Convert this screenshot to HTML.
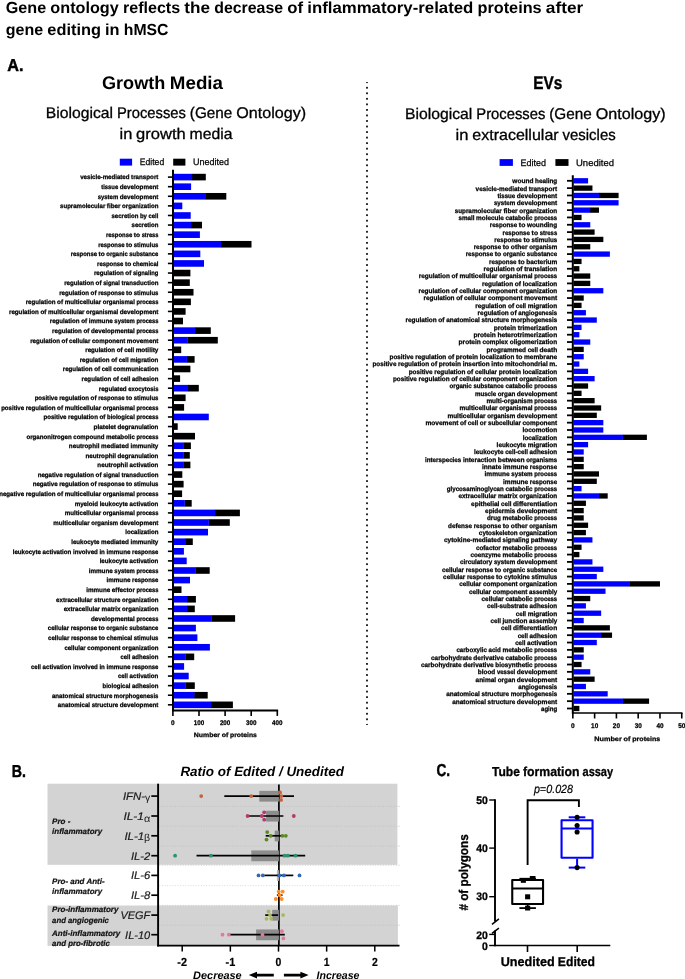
<!DOCTYPE html>
<html><head><meta charset="utf-8"><title>Figure</title>
<style>
html,body{margin:0;padding:0;background:#fff;}
body{width:685px;height:979px;overflow:hidden;}
svg{display:block;font-family:"Liberation Sans",sans-serif;text-rendering:geometricPrecision;}
</style></head><body>
<svg width="685" height="979" viewBox="0 0 685 979" style="filter:blur(0.3px)">
<rect x="0" y="0" width="685" height="979" fill="#fff"/>
<text x="5.80" y="12.60" font-size="16.0" text-anchor="start" font-weight="bold" font-style="normal" fill="#000" textLength="40.39" lengthAdjust="spacingAndGlyphs">Gene</text>
<text x="50.38" y="12.60" font-size="16.0" text-anchor="start" font-weight="bold" font-style="normal" fill="#000" textLength="68.41" lengthAdjust="spacingAndGlyphs">ontology</text>
<text x="122.98" y="12.60" font-size="16.0" text-anchor="start" font-weight="bold" font-style="normal" fill="#000" textLength="57.20" lengthAdjust="spacingAndGlyphs">reflects</text>
<text x="184.37" y="12.60" font-size="16.0" text-anchor="start" font-weight="bold" font-style="normal" fill="#000" textLength="25.70" lengthAdjust="spacingAndGlyphs">the</text>
<text x="214.26" y="12.60" font-size="16.0" text-anchor="start" font-weight="bold" font-style="normal" fill="#000" textLength="68.78" lengthAdjust="spacingAndGlyphs">decrease</text>
<text x="287.23" y="12.60" font-size="16.0" text-anchor="start" font-weight="bold" font-style="normal" fill="#000" textLength="15.82" lengthAdjust="spacingAndGlyphs">of</text>
<text x="307.24" y="12.60" font-size="16.0" text-anchor="start" font-weight="bold" font-style="normal" fill="#000" textLength="166.10" lengthAdjust="spacingAndGlyphs">inflammatory-related</text>
<text x="477.53" y="12.60" font-size="16.0" text-anchor="start" font-weight="bold" font-style="normal" fill="#000" textLength="64.15" lengthAdjust="spacingAndGlyphs">proteins</text>
<text x="545.86" y="12.60" font-size="16.0" text-anchor="start" font-weight="bold" font-style="normal" fill="#000" textLength="37.34" lengthAdjust="spacingAndGlyphs">after</text>
<text x="5.80" y="34.70" font-size="16.0" text-anchor="start" font-weight="bold" font-style="normal" fill="#000" textLength="37.37" lengthAdjust="spacingAndGlyphs">gene</text>
<text x="47.36" y="34.70" font-size="16.0" text-anchor="start" font-weight="bold" font-style="normal" fill="#000" textLength="53.55" lengthAdjust="spacingAndGlyphs">editing</text>
<text x="105.09" y="34.70" font-size="16.0" text-anchor="start" font-weight="bold" font-style="normal" fill="#000" textLength="14.51" lengthAdjust="spacingAndGlyphs">in</text>
<text x="123.79" y="34.70" font-size="16.0" text-anchor="start" font-weight="bold" font-style="normal" fill="#000" textLength="44.71" lengthAdjust="spacingAndGlyphs">hMSC</text>
<text x="7.20" y="71.00" font-size="17.3" text-anchor="start" font-weight="bold" font-style="normal" fill="#000" textLength="16.20" lengthAdjust="spacingAndGlyphs" stroke="#000" stroke-width="0.45">A.</text>
<text x="102.00" y="88.90" font-size="18.2" text-anchor="start" font-weight="bold" font-style="normal" fill="#000" textLength="63.30" lengthAdjust="spacingAndGlyphs">Growth</text>
<text x="169.82" y="88.90" font-size="18.2" text-anchor="start" font-weight="bold" font-style="normal" fill="#000" textLength="53.18" lengthAdjust="spacingAndGlyphs">Media</text>
<text x="45.70" y="118.40" font-size="15.4" text-anchor="start" font-weight="normal" font-style="normal" fill="#000" textLength="67.31" lengthAdjust="spacingAndGlyphs" stroke="#000" stroke-width="0.3">Biological</text>
<text x="116.93" y="118.40" font-size="15.4" text-anchor="start" font-weight="normal" font-style="normal" fill="#000" textLength="69.01" lengthAdjust="spacingAndGlyphs" stroke="#000" stroke-width="0.3">Processes</text>
<text x="189.85" y="118.40" font-size="15.4" text-anchor="start" font-weight="normal" font-style="normal" fill="#000" textLength="42.51" lengthAdjust="spacingAndGlyphs" stroke="#000" stroke-width="0.3">(Gene</text>
<text x="236.28" y="118.40" font-size="15.4" text-anchor="start" font-weight="normal" font-style="normal" fill="#000" textLength="69.82" lengthAdjust="spacingAndGlyphs" stroke="#000" stroke-width="0.3">Ontology)</text>
<text x="119.50" y="138.80" font-size="15.4" text-anchor="start" font-weight="normal" font-style="normal" fill="#000" textLength="12.80" lengthAdjust="spacingAndGlyphs" stroke="#000" stroke-width="0.3">in</text>
<text x="136.13" y="138.80" font-size="15.4" text-anchor="start" font-weight="normal" font-style="normal" fill="#000" textLength="49.59" lengthAdjust="spacingAndGlyphs" stroke="#000" stroke-width="0.3">growth</text>
<text x="189.56" y="138.80" font-size="15.4" text-anchor="start" font-weight="normal" font-style="normal" fill="#000" textLength="42.94" lengthAdjust="spacingAndGlyphs" stroke="#000" stroke-width="0.3">media</text>
<text x="533.30" y="89.20" font-size="18.2" text-anchor="start" font-weight="bold" font-style="normal" fill="#000" textLength="29.00" lengthAdjust="spacingAndGlyphs" stroke="#000" stroke-width="0.4">EVs</text>
<text x="405.00" y="119.40" font-size="15.4" text-anchor="start" font-weight="normal" font-style="normal" fill="#000" textLength="67.36" lengthAdjust="spacingAndGlyphs" stroke="#000" stroke-width="0.3">Biological</text>
<text x="476.28" y="119.40" font-size="15.4" text-anchor="start" font-weight="normal" font-style="normal" fill="#000" textLength="69.06" lengthAdjust="spacingAndGlyphs" stroke="#000" stroke-width="0.3">Processes</text>
<text x="549.26" y="119.40" font-size="15.4" text-anchor="start" font-weight="normal" font-style="normal" fill="#000" textLength="42.55" lengthAdjust="spacingAndGlyphs" stroke="#000" stroke-width="0.3">(Gene</text>
<text x="595.72" y="119.40" font-size="15.4" text-anchor="start" font-weight="normal" font-style="normal" fill="#000" textLength="69.88" lengthAdjust="spacingAndGlyphs" stroke="#000" stroke-width="0.3">Ontology)</text>
<text x="455.50" y="140.00" font-size="15.4" text-anchor="start" font-weight="normal" font-style="normal" fill="#000" textLength="12.89" lengthAdjust="spacingAndGlyphs" stroke="#000" stroke-width="0.3">in</text>
<text x="472.25" y="140.00" font-size="15.4" text-anchor="start" font-weight="normal" font-style="normal" fill="#000" textLength="86.41" lengthAdjust="spacingAndGlyphs" stroke="#000" stroke-width="0.3">extracellular</text>
<text x="562.52" y="140.00" font-size="15.4" text-anchor="start" font-weight="normal" font-style="normal" fill="#000" textLength="53.18" lengthAdjust="spacingAndGlyphs" stroke="#000" stroke-width="0.3">vesicles</text>
<rect x="366.10" y="82.10" width="1.80" height="1.00" fill="#111"/>
<rect x="366.10" y="86.84" width="1.80" height="1.80" fill="#111"/>
<rect x="366.10" y="92.38" width="1.80" height="1.80" fill="#111"/>
<rect x="366.10" y="97.92" width="1.80" height="1.80" fill="#111"/>
<rect x="366.10" y="103.46" width="1.80" height="1.80" fill="#111"/>
<rect x="366.10" y="109.00" width="1.80" height="1.80" fill="#111"/>
<rect x="366.10" y="114.54" width="1.80" height="1.80" fill="#111"/>
<rect x="366.10" y="120.08" width="1.80" height="1.80" fill="#111"/>
<rect x="366.10" y="125.62" width="1.80" height="1.80" fill="#111"/>
<rect x="366.10" y="131.16" width="1.80" height="1.80" fill="#111"/>
<rect x="366.10" y="136.70" width="1.80" height="1.80" fill="#111"/>
<rect x="366.10" y="142.24" width="1.80" height="1.80" fill="#111"/>
<rect x="366.10" y="147.78" width="1.80" height="1.80" fill="#111"/>
<rect x="366.10" y="153.32" width="1.80" height="1.80" fill="#111"/>
<rect x="366.10" y="158.86" width="1.80" height="1.80" fill="#111"/>
<rect x="366.10" y="164.40" width="1.80" height="1.80" fill="#111"/>
<rect x="366.10" y="169.94" width="1.80" height="1.80" fill="#111"/>
<rect x="366.10" y="175.48" width="1.80" height="1.80" fill="#111"/>
<rect x="366.10" y="181.02" width="1.80" height="1.80" fill="#111"/>
<rect x="366.10" y="186.56" width="1.80" height="1.80" fill="#111"/>
<rect x="366.10" y="192.10" width="1.80" height="1.80" fill="#111"/>
<rect x="366.10" y="197.64" width="1.80" height="1.80" fill="#111"/>
<rect x="366.10" y="203.18" width="1.80" height="1.80" fill="#111"/>
<rect x="366.10" y="208.72" width="1.80" height="1.80" fill="#111"/>
<rect x="366.10" y="214.26" width="1.80" height="1.80" fill="#111"/>
<rect x="366.10" y="219.80" width="1.80" height="1.80" fill="#111"/>
<rect x="366.10" y="225.34" width="1.80" height="1.80" fill="#111"/>
<rect x="366.10" y="230.88" width="1.80" height="1.80" fill="#111"/>
<rect x="366.10" y="236.42" width="1.80" height="1.80" fill="#111"/>
<rect x="366.10" y="241.96" width="1.80" height="1.80" fill="#111"/>
<rect x="366.10" y="247.50" width="1.80" height="1.80" fill="#111"/>
<rect x="366.10" y="253.04" width="1.80" height="1.80" fill="#111"/>
<rect x="366.10" y="258.58" width="1.80" height="1.80" fill="#111"/>
<rect x="366.10" y="264.12" width="1.80" height="1.80" fill="#111"/>
<rect x="366.10" y="269.66" width="1.80" height="1.80" fill="#111"/>
<rect x="366.10" y="275.20" width="1.80" height="1.80" fill="#111"/>
<rect x="366.10" y="280.74" width="1.80" height="1.80" fill="#111"/>
<rect x="366.10" y="286.28" width="1.80" height="1.80" fill="#111"/>
<rect x="366.10" y="291.82" width="1.80" height="1.80" fill="#111"/>
<rect x="366.10" y="297.36" width="1.80" height="1.80" fill="#111"/>
<rect x="366.10" y="302.90" width="1.80" height="1.80" fill="#111"/>
<rect x="366.10" y="308.44" width="1.80" height="1.80" fill="#111"/>
<rect x="366.10" y="313.98" width="1.80" height="1.80" fill="#111"/>
<rect x="366.10" y="319.52" width="1.80" height="1.80" fill="#111"/>
<rect x="366.10" y="325.06" width="1.80" height="1.80" fill="#111"/>
<rect x="366.10" y="330.60" width="1.80" height="1.80" fill="#111"/>
<rect x="366.10" y="336.14" width="1.80" height="1.80" fill="#111"/>
<rect x="366.10" y="341.68" width="1.80" height="1.80" fill="#111"/>
<rect x="366.10" y="347.22" width="1.80" height="1.80" fill="#111"/>
<rect x="366.10" y="352.76" width="1.80" height="1.80" fill="#111"/>
<rect x="366.10" y="358.30" width="1.80" height="1.80" fill="#111"/>
<rect x="366.10" y="363.84" width="1.80" height="1.80" fill="#111"/>
<rect x="366.10" y="369.38" width="1.80" height="1.80" fill="#111"/>
<rect x="366.10" y="374.92" width="1.80" height="1.80" fill="#111"/>
<rect x="366.10" y="380.46" width="1.80" height="1.80" fill="#111"/>
<rect x="366.10" y="386.00" width="1.80" height="1.80" fill="#111"/>
<rect x="366.10" y="391.54" width="1.80" height="1.80" fill="#111"/>
<rect x="366.10" y="397.08" width="1.80" height="1.80" fill="#111"/>
<rect x="366.10" y="402.62" width="1.80" height="1.80" fill="#111"/>
<rect x="366.10" y="408.16" width="1.80" height="1.80" fill="#111"/>
<rect x="366.10" y="413.70" width="1.80" height="1.80" fill="#111"/>
<rect x="366.10" y="419.24" width="1.80" height="1.80" fill="#111"/>
<rect x="366.10" y="424.78" width="1.80" height="1.80" fill="#111"/>
<rect x="366.10" y="430.32" width="1.80" height="1.80" fill="#111"/>
<rect x="366.10" y="435.86" width="1.80" height="1.80" fill="#111"/>
<rect x="366.10" y="441.40" width="1.80" height="1.80" fill="#111"/>
<rect x="366.10" y="446.94" width="1.80" height="1.80" fill="#111"/>
<rect x="366.10" y="452.48" width="1.80" height="1.80" fill="#111"/>
<rect x="366.10" y="458.02" width="1.80" height="1.80" fill="#111"/>
<rect x="366.10" y="463.56" width="1.80" height="1.80" fill="#111"/>
<rect x="366.10" y="469.10" width="1.80" height="1.80" fill="#111"/>
<rect x="366.10" y="474.64" width="1.80" height="1.80" fill="#111"/>
<rect x="366.10" y="480.18" width="1.80" height="1.80" fill="#111"/>
<rect x="366.10" y="485.72" width="1.80" height="1.80" fill="#111"/>
<rect x="366.10" y="491.26" width="1.80" height="1.80" fill="#111"/>
<rect x="366.10" y="496.80" width="1.80" height="1.80" fill="#111"/>
<rect x="366.10" y="502.34" width="1.80" height="1.80" fill="#111"/>
<rect x="366.10" y="507.88" width="1.80" height="1.80" fill="#111"/>
<rect x="366.10" y="513.42" width="1.80" height="1.80" fill="#111"/>
<rect x="366.10" y="518.96" width="1.80" height="1.80" fill="#111"/>
<rect x="366.10" y="524.50" width="1.80" height="1.80" fill="#111"/>
<rect x="366.10" y="530.04" width="1.80" height="1.80" fill="#111"/>
<rect x="366.10" y="535.58" width="1.80" height="1.80" fill="#111"/>
<rect x="366.10" y="541.12" width="1.80" height="1.80" fill="#111"/>
<rect x="366.10" y="546.66" width="1.80" height="1.80" fill="#111"/>
<rect x="366.10" y="552.20" width="1.80" height="1.80" fill="#111"/>
<rect x="366.10" y="557.74" width="1.80" height="1.80" fill="#111"/>
<rect x="366.10" y="563.28" width="1.80" height="1.80" fill="#111"/>
<rect x="366.10" y="568.82" width="1.80" height="1.80" fill="#111"/>
<rect x="366.10" y="574.36" width="1.80" height="1.80" fill="#111"/>
<rect x="366.10" y="579.90" width="1.80" height="1.80" fill="#111"/>
<rect x="366.10" y="585.44" width="1.80" height="1.80" fill="#111"/>
<rect x="366.10" y="590.98" width="1.80" height="1.80" fill="#111"/>
<rect x="366.10" y="596.52" width="1.80" height="1.80" fill="#111"/>
<rect x="366.10" y="602.06" width="1.80" height="1.80" fill="#111"/>
<rect x="366.10" y="607.60" width="1.80" height="1.80" fill="#111"/>
<rect x="366.10" y="613.14" width="1.80" height="1.80" fill="#111"/>
<rect x="366.10" y="618.68" width="1.80" height="1.80" fill="#111"/>
<rect x="366.10" y="624.22" width="1.80" height="1.80" fill="#111"/>
<rect x="366.10" y="629.76" width="1.80" height="1.80" fill="#111"/>
<rect x="366.10" y="635.30" width="1.80" height="1.80" fill="#111"/>
<rect x="366.10" y="640.84" width="1.80" height="1.80" fill="#111"/>
<rect x="366.10" y="646.38" width="1.80" height="1.80" fill="#111"/>
<rect x="366.10" y="651.92" width="1.80" height="1.80" fill="#111"/>
<rect x="366.10" y="657.46" width="1.80" height="1.80" fill="#111"/>
<rect x="366.10" y="663.00" width="1.80" height="1.80" fill="#111"/>
<rect x="366.10" y="668.54" width="1.80" height="1.80" fill="#111"/>
<rect x="366.10" y="674.08" width="1.80" height="1.80" fill="#111"/>
<rect x="366.10" y="679.62" width="1.80" height="1.80" fill="#111"/>
<rect x="366.10" y="685.16" width="1.80" height="1.80" fill="#111"/>
<rect x="366.10" y="690.70" width="1.80" height="1.80" fill="#111"/>
<rect x="366.10" y="696.24" width="1.80" height="1.80" fill="#111"/>
<rect x="366.10" y="701.78" width="1.80" height="1.80" fill="#111"/>
<rect x="366.10" y="707.32" width="1.80" height="1.80" fill="#111"/>
<rect x="366.10" y="712.86" width="1.80" height="1.80" fill="#111"/>
<rect x="366.10" y="718.40" width="1.80" height="1.80" fill="#111"/>
<rect x="366.10" y="723.94" width="1.80" height="1.00" fill="#111"/>
<rect x="119.80" y="158.70" width="12.30" height="6.90" fill="#0000ff"/>
<text x="139.80" y="165.10" font-size="9.3" text-anchor="start" font-weight="normal" font-style="normal" fill="#000" textLength="24.40" lengthAdjust="spacingAndGlyphs" stroke="#000" stroke-width="0.25">Edited</text>
<rect x="173.20" y="158.70" width="12.20" height="6.90" fill="#000"/>
<text x="193.00" y="165.10" font-size="9.3" text-anchor="start" font-weight="normal" font-style="normal" fill="#000" textLength="36.00" lengthAdjust="spacingAndGlyphs" stroke="#000" stroke-width="0.25">Unedited</text>
<rect x="499.60" y="159.10" width="13.30" height="6.80" fill="#0000ff"/>
<text x="520.50" y="165.80" font-size="9.3" text-anchor="start" font-weight="normal" font-style="normal" fill="#000" textLength="25.50" lengthAdjust="spacingAndGlyphs" stroke="#000" stroke-width="0.25">Edited</text>
<rect x="555.40" y="159.10" width="13.10" height="6.80" fill="#000"/>
<text x="576.00" y="165.80" font-size="9.3" text-anchor="start" font-weight="normal" font-style="normal" fill="#000" textLength="38.00" lengthAdjust="spacingAndGlyphs" stroke="#000" stroke-width="0.25">Unedited</text>
<rect x="191.90" y="173.80" width="13.90" height="6.60" fill="#000"/>
<rect x="173.60" y="173.80" width="18.60" height="6.60" fill="#0000ff"/>
<line x1="167.90" y1="177.10" x2="172.50" y2="177.10" stroke="#000" stroke-width="1.6"/>
<text x="80.16" y="179.45" font-size="6.3" text-anchor="start" font-weight="bold" font-style="normal" fill="#000" textLength="49.38" lengthAdjust="spacingAndGlyphs" stroke="#000" stroke-width="0.25">vesicle-mediated</text>
<text x="131.12" y="179.45" font-size="6.3" text-anchor="start" font-weight="bold" font-style="normal" fill="#000" textLength="27.28" lengthAdjust="spacingAndGlyphs" stroke="#000" stroke-width="0.25">transport</text>
<rect x="173.60" y="183.39" width="17.50" height="6.60" fill="#0000ff"/>
<line x1="167.90" y1="186.69" x2="172.50" y2="186.69" stroke="#000" stroke-width="1.6"/>
<text x="101.21" y="189.04" font-size="6.3" text-anchor="start" font-weight="bold" font-style="normal" fill="#000" textLength="16.97" lengthAdjust="spacingAndGlyphs" stroke="#000" stroke-width="0.25">tissue</text>
<text x="119.75" y="189.04" font-size="6.3" text-anchor="start" font-weight="bold" font-style="normal" fill="#000" textLength="38.65" lengthAdjust="spacingAndGlyphs" stroke="#000" stroke-width="0.25">development</text>
<rect x="205.70" y="192.99" width="20.60" height="6.60" fill="#000"/>
<rect x="173.60" y="192.99" width="32.40" height="6.60" fill="#0000ff"/>
<line x1="167.90" y1="196.29" x2="172.50" y2="196.29" stroke="#000" stroke-width="1.6"/>
<text x="97.69" y="198.64" font-size="6.3" text-anchor="start" font-weight="bold" font-style="normal" fill="#000" textLength="20.49" lengthAdjust="spacingAndGlyphs" stroke="#000" stroke-width="0.25">system</text>
<text x="119.75" y="198.64" font-size="6.3" text-anchor="start" font-weight="bold" font-style="normal" fill="#000" textLength="38.65" lengthAdjust="spacingAndGlyphs" stroke="#000" stroke-width="0.25">development</text>
<rect x="173.60" y="202.58" width="8.70" height="6.60" fill="#0000ff"/>
<line x1="167.90" y1="205.88" x2="172.50" y2="205.88" stroke="#000" stroke-width="1.6"/>
<text x="60.09" y="208.23" font-size="6.3" text-anchor="start" font-weight="bold" font-style="normal" fill="#000" textLength="45.17" lengthAdjust="spacingAndGlyphs" stroke="#000" stroke-width="0.25">supramolecular</text>
<text x="106.85" y="208.23" font-size="6.3" text-anchor="start" font-weight="bold" font-style="normal" fill="#000" textLength="13.66" lengthAdjust="spacingAndGlyphs" stroke="#000" stroke-width="0.25">fiber</text>
<text x="122.08" y="208.23" font-size="6.3" text-anchor="start" font-weight="bold" font-style="normal" fill="#000" textLength="36.32" lengthAdjust="spacingAndGlyphs" stroke="#000" stroke-width="0.25">organization</text>
<rect x="173.60" y="212.18" width="17.10" height="6.60" fill="#0000ff"/>
<line x1="167.90" y1="215.48" x2="172.50" y2="215.48" stroke="#000" stroke-width="1.6"/>
<text x="111.48" y="217.83" font-size="6.3" text-anchor="start" font-weight="bold" font-style="normal" fill="#000" textLength="26.85" lengthAdjust="spacingAndGlyphs" stroke="#000" stroke-width="0.25">secretion</text>
<text x="139.90" y="217.83" font-size="6.3" text-anchor="start" font-weight="bold" font-style="normal" fill="#000" textLength="7.06" lengthAdjust="spacingAndGlyphs" stroke="#000" stroke-width="0.25">by</text>
<text x="148.54" y="217.83" font-size="6.3" text-anchor="start" font-weight="bold" font-style="normal" fill="#000" textLength="9.86" lengthAdjust="spacingAndGlyphs" stroke="#000" stroke-width="0.25">cell</text>
<rect x="190.80" y="221.77" width="11.20" height="6.60" fill="#000"/>
<rect x="173.60" y="221.77" width="17.50" height="6.60" fill="#0000ff"/>
<line x1="167.90" y1="225.07" x2="172.50" y2="225.07" stroke="#000" stroke-width="1.6"/>
<text x="131.55" y="227.42" font-size="6.3" text-anchor="start" font-weight="bold" font-style="normal" fill="#000" textLength="26.85" lengthAdjust="spacingAndGlyphs" stroke="#000" stroke-width="0.25">secretion</text>
<rect x="173.60" y="231.37" width="26.30" height="6.60" fill="#0000ff"/>
<line x1="167.90" y1="234.67" x2="172.50" y2="234.67" stroke="#000" stroke-width="1.6"/>
<text x="105.98" y="237.02" font-size="6.3" text-anchor="start" font-weight="bold" font-style="normal" fill="#000" textLength="26.32" lengthAdjust="spacingAndGlyphs" stroke="#000" stroke-width="0.25">response</text>
<text x="133.88" y="237.02" font-size="6.3" text-anchor="start" font-weight="bold" font-style="normal" fill="#000" textLength="6.18" lengthAdjust="spacingAndGlyphs" stroke="#000" stroke-width="0.25">to</text>
<text x="141.63" y="237.02" font-size="6.3" text-anchor="start" font-weight="bold" font-style="normal" fill="#000" textLength="16.77" lengthAdjust="spacingAndGlyphs" stroke="#000" stroke-width="0.25">stress</text>
<rect x="221.00" y="240.96" width="30.50" height="6.60" fill="#000"/>
<rect x="173.60" y="240.96" width="47.70" height="6.60" fill="#0000ff"/>
<line x1="167.90" y1="244.26" x2="172.50" y2="244.26" stroke="#000" stroke-width="1.6"/>
<text x="98.15" y="246.61" font-size="6.3" text-anchor="start" font-weight="bold" font-style="normal" fill="#000" textLength="26.32" lengthAdjust="spacingAndGlyphs" stroke="#000" stroke-width="0.25">response</text>
<text x="126.05" y="246.61" font-size="6.3" text-anchor="start" font-weight="bold" font-style="normal" fill="#000" textLength="6.18" lengthAdjust="spacingAndGlyphs" stroke="#000" stroke-width="0.25">to</text>
<text x="133.80" y="246.61" font-size="6.3" text-anchor="start" font-weight="bold" font-style="normal" fill="#000" textLength="24.60" lengthAdjust="spacingAndGlyphs" stroke="#000" stroke-width="0.25">stimulus</text>
<rect x="173.60" y="250.56" width="26.70" height="6.60" fill="#0000ff"/>
<line x1="167.90" y1="253.86" x2="172.50" y2="253.86" stroke="#000" stroke-width="1.6"/>
<text x="70.68" y="256.21" font-size="6.3" text-anchor="start" font-weight="bold" font-style="normal" fill="#000" textLength="26.32" lengthAdjust="spacingAndGlyphs" stroke="#000" stroke-width="0.25">response</text>
<text x="98.58" y="256.21" font-size="6.3" text-anchor="start" font-weight="bold" font-style="normal" fill="#000" textLength="6.18" lengthAdjust="spacingAndGlyphs" stroke="#000" stroke-width="0.25">to</text>
<text x="106.34" y="256.21" font-size="6.3" text-anchor="start" font-weight="bold" font-style="normal" fill="#000" textLength="21.37" lengthAdjust="spacingAndGlyphs" stroke="#000" stroke-width="0.25">organic</text>
<text x="129.29" y="256.21" font-size="6.3" text-anchor="start" font-weight="bold" font-style="normal" fill="#000" textLength="29.11" lengthAdjust="spacingAndGlyphs" stroke="#000" stroke-width="0.25">substance</text>
<rect x="173.60" y="260.15" width="30.40" height="6.60" fill="#0000ff"/>
<line x1="167.90" y1="263.45" x2="172.50" y2="263.45" stroke="#000" stroke-width="1.6"/>
<text x="97.09" y="265.81" font-size="6.3" text-anchor="start" font-weight="bold" font-style="normal" fill="#000" textLength="26.32" lengthAdjust="spacingAndGlyphs" stroke="#000" stroke-width="0.25">response</text>
<text x="124.99" y="265.81" font-size="6.3" text-anchor="start" font-weight="bold" font-style="normal" fill="#000" textLength="6.18" lengthAdjust="spacingAndGlyphs" stroke="#000" stroke-width="0.25">to</text>
<text x="132.75" y="265.81" font-size="6.3" text-anchor="start" font-weight="bold" font-style="normal" fill="#000" textLength="25.65" lengthAdjust="spacingAndGlyphs" stroke="#000" stroke-width="0.25">chemical</text>
<rect x="173.60" y="269.75" width="16.80" height="6.60" fill="#000"/>
<line x1="167.90" y1="273.05" x2="172.50" y2="273.05" stroke="#000" stroke-width="1.6"/>
<text x="93.93" y="275.40" font-size="6.3" text-anchor="start" font-weight="bold" font-style="normal" fill="#000" textLength="29.85" lengthAdjust="spacingAndGlyphs" stroke="#000" stroke-width="0.25">regulation</text>
<text x="125.36" y="275.40" font-size="6.3" text-anchor="start" font-weight="bold" font-style="normal" fill="#000" textLength="5.96" lengthAdjust="spacingAndGlyphs" stroke="#000" stroke-width="0.25">of</text>
<text x="132.90" y="275.40" font-size="6.3" text-anchor="start" font-weight="bold" font-style="normal" fill="#000" textLength="25.50" lengthAdjust="spacingAndGlyphs" stroke="#000" stroke-width="0.25">signaling</text>
<rect x="173.60" y="279.34" width="16.20" height="6.60" fill="#000"/>
<line x1="167.90" y1="282.64" x2="172.50" y2="282.64" stroke="#000" stroke-width="1.6"/>
<text x="64.19" y="285.00" font-size="6.3" text-anchor="start" font-weight="bold" font-style="normal" fill="#000" textLength="29.85" lengthAdjust="spacingAndGlyphs" stroke="#000" stroke-width="0.25">regulation</text>
<text x="95.62" y="285.00" font-size="6.3" text-anchor="start" font-weight="bold" font-style="normal" fill="#000" textLength="5.96" lengthAdjust="spacingAndGlyphs" stroke="#000" stroke-width="0.25">of</text>
<text x="103.16" y="285.00" font-size="6.3" text-anchor="start" font-weight="bold" font-style="normal" fill="#000" textLength="16.72" lengthAdjust="spacingAndGlyphs" stroke="#000" stroke-width="0.25">signal</text>
<text x="121.46" y="285.00" font-size="6.3" text-anchor="start" font-weight="bold" font-style="normal" fill="#000" textLength="36.94" lengthAdjust="spacingAndGlyphs" stroke="#000" stroke-width="0.25">transduction</text>
<rect x="173.60" y="288.94" width="19.90" height="6.60" fill="#000"/>
<line x1="167.90" y1="292.24" x2="172.50" y2="292.24" stroke="#000" stroke-width="1.6"/>
<text x="59.18" y="294.59" font-size="6.3" text-anchor="start" font-weight="bold" font-style="normal" fill="#000" textLength="29.85" lengthAdjust="spacingAndGlyphs" stroke="#000" stroke-width="0.25">regulation</text>
<text x="90.61" y="294.59" font-size="6.3" text-anchor="start" font-weight="bold" font-style="normal" fill="#000" textLength="5.96" lengthAdjust="spacingAndGlyphs" stroke="#000" stroke-width="0.25">of</text>
<text x="98.15" y="294.59" font-size="6.3" text-anchor="start" font-weight="bold" font-style="normal" fill="#000" textLength="26.32" lengthAdjust="spacingAndGlyphs" stroke="#000" stroke-width="0.25">response</text>
<text x="126.05" y="294.59" font-size="6.3" text-anchor="start" font-weight="bold" font-style="normal" fill="#000" textLength="6.18" lengthAdjust="spacingAndGlyphs" stroke="#000" stroke-width="0.25">to</text>
<text x="133.80" y="294.59" font-size="6.3" text-anchor="start" font-weight="bold" font-style="normal" fill="#000" textLength="24.60" lengthAdjust="spacingAndGlyphs" stroke="#000" stroke-width="0.25">stimulus</text>
<rect x="173.60" y="298.54" width="17.30" height="6.60" fill="#000"/>
<line x1="167.90" y1="301.84" x2="172.50" y2="301.84" stroke="#000" stroke-width="1.6"/>
<text x="25.68" y="304.19" font-size="6.3" text-anchor="start" font-weight="bold" font-style="normal" fill="#000" textLength="29.85" lengthAdjust="spacingAndGlyphs" stroke="#000" stroke-width="0.25">regulation</text>
<text x="57.11" y="304.19" font-size="6.3" text-anchor="start" font-weight="bold" font-style="normal" fill="#000" textLength="5.96" lengthAdjust="spacingAndGlyphs" stroke="#000" stroke-width="0.25">of</text>
<text x="64.65" y="304.19" font-size="6.3" text-anchor="start" font-weight="bold" font-style="normal" fill="#000" textLength="36.53" lengthAdjust="spacingAndGlyphs" stroke="#000" stroke-width="0.25">multicellular</text>
<text x="102.76" y="304.19" font-size="6.3" text-anchor="start" font-weight="bold" font-style="normal" fill="#000" textLength="32.08" lengthAdjust="spacingAndGlyphs" stroke="#000" stroke-width="0.25">organismal</text>
<text x="136.42" y="304.19" font-size="6.3" text-anchor="start" font-weight="bold" font-style="normal" fill="#000" textLength="21.98" lengthAdjust="spacingAndGlyphs" stroke="#000" stroke-width="0.25">process</text>
<rect x="173.60" y="308.13" width="12.00" height="6.60" fill="#000"/>
<line x1="167.90" y1="311.43" x2="172.50" y2="311.43" stroke="#000" stroke-width="1.6"/>
<text x="9.01" y="313.78" font-size="6.3" text-anchor="start" font-weight="bold" font-style="normal" fill="#000" textLength="29.85" lengthAdjust="spacingAndGlyphs" stroke="#000" stroke-width="0.25">regulation</text>
<text x="40.44" y="313.78" font-size="6.3" text-anchor="start" font-weight="bold" font-style="normal" fill="#000" textLength="5.96" lengthAdjust="spacingAndGlyphs" stroke="#000" stroke-width="0.25">of</text>
<text x="47.98" y="313.78" font-size="6.3" text-anchor="start" font-weight="bold" font-style="normal" fill="#000" textLength="36.53" lengthAdjust="spacingAndGlyphs" stroke="#000" stroke-width="0.25">multicellular</text>
<text x="86.09" y="313.78" font-size="6.3" text-anchor="start" font-weight="bold" font-style="normal" fill="#000" textLength="32.08" lengthAdjust="spacingAndGlyphs" stroke="#000" stroke-width="0.25">organismal</text>
<text x="119.75" y="313.78" font-size="6.3" text-anchor="start" font-weight="bold" font-style="normal" fill="#000" textLength="38.65" lengthAdjust="spacingAndGlyphs" stroke="#000" stroke-width="0.25">development</text>
<rect x="173.60" y="317.72" width="9.40" height="6.60" fill="#000"/>
<line x1="167.90" y1="321.02" x2="172.50" y2="321.02" stroke="#000" stroke-width="1.6"/>
<text x="49.74" y="323.38" font-size="6.3" text-anchor="start" font-weight="bold" font-style="normal" fill="#000" textLength="29.85" lengthAdjust="spacingAndGlyphs" stroke="#000" stroke-width="0.25">regulation</text>
<text x="81.17" y="323.38" font-size="6.3" text-anchor="start" font-weight="bold" font-style="normal" fill="#000" textLength="5.96" lengthAdjust="spacingAndGlyphs" stroke="#000" stroke-width="0.25">of</text>
<text x="88.70" y="323.38" font-size="6.3" text-anchor="start" font-weight="bold" font-style="normal" fill="#000" textLength="24.07" lengthAdjust="spacingAndGlyphs" stroke="#000" stroke-width="0.25">immune</text>
<text x="114.36" y="323.38" font-size="6.3" text-anchor="start" font-weight="bold" font-style="normal" fill="#000" textLength="20.49" lengthAdjust="spacingAndGlyphs" stroke="#000" stroke-width="0.25">system</text>
<text x="136.42" y="323.38" font-size="6.3" text-anchor="start" font-weight="bold" font-style="normal" fill="#000" textLength="21.98" lengthAdjust="spacingAndGlyphs" stroke="#000" stroke-width="0.25">process</text>
<rect x="195.00" y="327.32" width="15.80" height="6.60" fill="#000"/>
<rect x="173.60" y="327.32" width="21.70" height="6.60" fill="#0000ff"/>
<line x1="167.90" y1="330.62" x2="172.50" y2="330.62" stroke="#000" stroke-width="1.6"/>
<text x="52.06" y="332.97" font-size="6.3" text-anchor="start" font-weight="bold" font-style="normal" fill="#000" textLength="29.85" lengthAdjust="spacingAndGlyphs" stroke="#000" stroke-width="0.25">regulation</text>
<text x="83.49" y="332.97" font-size="6.3" text-anchor="start" font-weight="bold" font-style="normal" fill="#000" textLength="5.96" lengthAdjust="spacingAndGlyphs" stroke="#000" stroke-width="0.25">of</text>
<text x="91.03" y="332.97" font-size="6.3" text-anchor="start" font-weight="bold" font-style="normal" fill="#000" textLength="43.81" lengthAdjust="spacingAndGlyphs" stroke="#000" stroke-width="0.25">developmental</text>
<text x="136.42" y="332.97" font-size="6.3" text-anchor="start" font-weight="bold" font-style="normal" fill="#000" textLength="21.98" lengthAdjust="spacingAndGlyphs" stroke="#000" stroke-width="0.25">process</text>
<rect x="187.50" y="336.92" width="30.30" height="6.60" fill="#000"/>
<rect x="173.60" y="336.92" width="14.20" height="6.60" fill="#0000ff"/>
<line x1="167.90" y1="340.22" x2="172.50" y2="340.22" stroke="#000" stroke-width="1.6"/>
<text x="30.14" y="342.57" font-size="6.3" text-anchor="start" font-weight="bold" font-style="normal" fill="#000" textLength="29.85" lengthAdjust="spacingAndGlyphs" stroke="#000" stroke-width="0.25">regulation</text>
<text x="61.57" y="342.57" font-size="6.3" text-anchor="start" font-weight="bold" font-style="normal" fill="#000" textLength="5.96" lengthAdjust="spacingAndGlyphs" stroke="#000" stroke-width="0.25">of</text>
<text x="69.11" y="342.57" font-size="6.3" text-anchor="start" font-weight="bold" font-style="normal" fill="#000" textLength="21.25" lengthAdjust="spacingAndGlyphs" stroke="#000" stroke-width="0.25">cellular</text>
<text x="91.94" y="342.57" font-size="6.3" text-anchor="start" font-weight="bold" font-style="normal" fill="#000" textLength="33.28" lengthAdjust="spacingAndGlyphs" stroke="#000" stroke-width="0.25">component</text>
<text x="126.80" y="342.57" font-size="6.3" text-anchor="start" font-weight="bold" font-style="normal" fill="#000" textLength="31.60" lengthAdjust="spacingAndGlyphs" stroke="#000" stroke-width="0.25">movement</text>
<rect x="173.60" y="346.51" width="7.60" height="6.60" fill="#000"/>
<line x1="167.90" y1="349.81" x2="172.50" y2="349.81" stroke="#000" stroke-width="1.6"/>
<text x="85.26" y="352.16" font-size="6.3" text-anchor="start" font-weight="bold" font-style="normal" fill="#000" textLength="29.85" lengthAdjust="spacingAndGlyphs" stroke="#000" stroke-width="0.25">regulation</text>
<text x="116.69" y="352.16" font-size="6.3" text-anchor="start" font-weight="bold" font-style="normal" fill="#000" textLength="5.96" lengthAdjust="spacingAndGlyphs" stroke="#000" stroke-width="0.25">of</text>
<text x="124.23" y="352.16" font-size="6.3" text-anchor="start" font-weight="bold" font-style="normal" fill="#000" textLength="9.86" lengthAdjust="spacingAndGlyphs" stroke="#000" stroke-width="0.25">cell</text>
<text x="135.67" y="352.16" font-size="6.3" text-anchor="start" font-weight="bold" font-style="normal" fill="#000" textLength="22.73" lengthAdjust="spacingAndGlyphs" stroke="#000" stroke-width="0.25">motility</text>
<rect x="186.60" y="356.10" width="8.00" height="6.60" fill="#000"/>
<rect x="173.60" y="356.10" width="13.30" height="6.60" fill="#0000ff"/>
<line x1="167.90" y1="359.40" x2="172.50" y2="359.40" stroke="#000" stroke-width="1.6"/>
<text x="79.72" y="361.75" font-size="6.3" text-anchor="start" font-weight="bold" font-style="normal" fill="#000" textLength="29.85" lengthAdjust="spacingAndGlyphs" stroke="#000" stroke-width="0.25">regulation</text>
<text x="111.15" y="361.75" font-size="6.3" text-anchor="start" font-weight="bold" font-style="normal" fill="#000" textLength="5.96" lengthAdjust="spacingAndGlyphs" stroke="#000" stroke-width="0.25">of</text>
<text x="118.69" y="361.75" font-size="6.3" text-anchor="start" font-weight="bold" font-style="normal" fill="#000" textLength="9.86" lengthAdjust="spacingAndGlyphs" stroke="#000" stroke-width="0.25">cell</text>
<text x="130.13" y="361.75" font-size="6.3" text-anchor="start" font-weight="bold" font-style="normal" fill="#000" textLength="28.27" lengthAdjust="spacingAndGlyphs" stroke="#000" stroke-width="0.25">migration</text>
<rect x="173.60" y="365.70" width="16.80" height="6.60" fill="#000"/>
<line x1="167.90" y1="369.00" x2="172.50" y2="369.00" stroke="#000" stroke-width="1.6"/>
<text x="62.75" y="371.35" font-size="6.3" text-anchor="start" font-weight="bold" font-style="normal" fill="#000" textLength="29.85" lengthAdjust="spacingAndGlyphs" stroke="#000" stroke-width="0.25">regulation</text>
<text x="94.18" y="371.35" font-size="6.3" text-anchor="start" font-weight="bold" font-style="normal" fill="#000" textLength="5.96" lengthAdjust="spacingAndGlyphs" stroke="#000" stroke-width="0.25">of</text>
<text x="101.72" y="371.35" font-size="6.3" text-anchor="start" font-weight="bold" font-style="normal" fill="#000" textLength="9.86" lengthAdjust="spacingAndGlyphs" stroke="#000" stroke-width="0.25">cell</text>
<text x="113.16" y="371.35" font-size="6.3" text-anchor="start" font-weight="bold" font-style="normal" fill="#000" textLength="45.24" lengthAdjust="spacingAndGlyphs" stroke="#000" stroke-width="0.25">communication</text>
<rect x="173.60" y="375.30" width="6.50" height="6.60" fill="#000"/>
<line x1="167.90" y1="378.60" x2="172.50" y2="378.60" stroke="#000" stroke-width="1.6"/>
<text x="81.53" y="380.95" font-size="6.3" text-anchor="start" font-weight="bold" font-style="normal" fill="#000" textLength="29.85" lengthAdjust="spacingAndGlyphs" stroke="#000" stroke-width="0.25">regulation</text>
<text x="112.96" y="380.95" font-size="6.3" text-anchor="start" font-weight="bold" font-style="normal" fill="#000" textLength="5.96" lengthAdjust="spacingAndGlyphs" stroke="#000" stroke-width="0.25">of</text>
<text x="120.50" y="380.95" font-size="6.3" text-anchor="start" font-weight="bold" font-style="normal" fill="#000" textLength="9.86" lengthAdjust="spacingAndGlyphs" stroke="#000" stroke-width="0.25">cell</text>
<text x="131.94" y="380.95" font-size="6.3" text-anchor="start" font-weight="bold" font-style="normal" fill="#000" textLength="26.46" lengthAdjust="spacingAndGlyphs" stroke="#000" stroke-width="0.25">adhesion</text>
<rect x="187.90" y="384.89" width="10.90" height="6.60" fill="#000"/>
<rect x="173.60" y="384.89" width="14.60" height="6.60" fill="#0000ff"/>
<line x1="167.90" y1="388.19" x2="172.50" y2="388.19" stroke="#000" stroke-width="1.6"/>
<text x="98.77" y="390.54" font-size="6.3" text-anchor="start" font-weight="bold" font-style="normal" fill="#000" textLength="27.89" lengthAdjust="spacingAndGlyphs" stroke="#000" stroke-width="0.25">regulated</text>
<text x="128.24" y="390.54" font-size="6.3" text-anchor="start" font-weight="bold" font-style="normal" fill="#000" textLength="30.16" lengthAdjust="spacingAndGlyphs" stroke="#000" stroke-width="0.25">exocytosis</text>
<rect x="173.60" y="394.48" width="12.00" height="6.60" fill="#000"/>
<line x1="167.90" y1="397.78" x2="172.50" y2="397.78" stroke="#000" stroke-width="1.6"/>
<text x="34.64" y="400.13" font-size="6.3" text-anchor="start" font-weight="bold" font-style="normal" fill="#000" textLength="22.96" lengthAdjust="spacingAndGlyphs" stroke="#000" stroke-width="0.25">positive</text>
<text x="59.18" y="400.13" font-size="6.3" text-anchor="start" font-weight="bold" font-style="normal" fill="#000" textLength="29.85" lengthAdjust="spacingAndGlyphs" stroke="#000" stroke-width="0.25">regulation</text>
<text x="90.61" y="400.13" font-size="6.3" text-anchor="start" font-weight="bold" font-style="normal" fill="#000" textLength="5.96" lengthAdjust="spacingAndGlyphs" stroke="#000" stroke-width="0.25">of</text>
<text x="98.15" y="400.13" font-size="6.3" text-anchor="start" font-weight="bold" font-style="normal" fill="#000" textLength="26.32" lengthAdjust="spacingAndGlyphs" stroke="#000" stroke-width="0.25">response</text>
<text x="126.05" y="400.13" font-size="6.3" text-anchor="start" font-weight="bold" font-style="normal" fill="#000" textLength="6.18" lengthAdjust="spacingAndGlyphs" stroke="#000" stroke-width="0.25">to</text>
<text x="133.80" y="400.13" font-size="6.3" text-anchor="start" font-weight="bold" font-style="normal" fill="#000" textLength="24.60" lengthAdjust="spacingAndGlyphs" stroke="#000" stroke-width="0.25">stimulus</text>
<rect x="173.60" y="404.08" width="10.50" height="6.60" fill="#000"/>
<line x1="167.90" y1="407.38" x2="172.50" y2="407.38" stroke="#000" stroke-width="1.6"/>
<text x="1.15" y="409.73" font-size="6.3" text-anchor="start" font-weight="bold" font-style="normal" fill="#000" textLength="22.96" lengthAdjust="spacingAndGlyphs" stroke="#000" stroke-width="0.25">positive</text>
<text x="25.68" y="409.73" font-size="6.3" text-anchor="start" font-weight="bold" font-style="normal" fill="#000" textLength="29.85" lengthAdjust="spacingAndGlyphs" stroke="#000" stroke-width="0.25">regulation</text>
<text x="57.11" y="409.73" font-size="6.3" text-anchor="start" font-weight="bold" font-style="normal" fill="#000" textLength="5.96" lengthAdjust="spacingAndGlyphs" stroke="#000" stroke-width="0.25">of</text>
<text x="64.65" y="409.73" font-size="6.3" text-anchor="start" font-weight="bold" font-style="normal" fill="#000" textLength="36.53" lengthAdjust="spacingAndGlyphs" stroke="#000" stroke-width="0.25">multicellular</text>
<text x="102.76" y="409.73" font-size="6.3" text-anchor="start" font-weight="bold" font-style="normal" fill="#000" textLength="32.08" lengthAdjust="spacingAndGlyphs" stroke="#000" stroke-width="0.25">organismal</text>
<text x="136.42" y="409.73" font-size="6.3" text-anchor="start" font-weight="bold" font-style="normal" fill="#000" textLength="21.98" lengthAdjust="spacingAndGlyphs" stroke="#000" stroke-width="0.25">process</text>
<rect x="173.60" y="413.68" width="35.20" height="6.60" fill="#0000ff"/>
<line x1="167.90" y1="416.98" x2="172.50" y2="416.98" stroke="#000" stroke-width="1.6"/>
<text x="43.54" y="419.33" font-size="6.3" text-anchor="start" font-weight="bold" font-style="normal" fill="#000" textLength="22.96" lengthAdjust="spacingAndGlyphs" stroke="#000" stroke-width="0.25">positive</text>
<text x="68.07" y="419.33" font-size="6.3" text-anchor="start" font-weight="bold" font-style="normal" fill="#000" textLength="29.85" lengthAdjust="spacingAndGlyphs" stroke="#000" stroke-width="0.25">regulation</text>
<text x="99.50" y="419.33" font-size="6.3" text-anchor="start" font-weight="bold" font-style="normal" fill="#000" textLength="5.96" lengthAdjust="spacingAndGlyphs" stroke="#000" stroke-width="0.25">of</text>
<text x="107.04" y="419.33" font-size="6.3" text-anchor="start" font-weight="bold" font-style="normal" fill="#000" textLength="27.80" lengthAdjust="spacingAndGlyphs" stroke="#000" stroke-width="0.25">biological</text>
<text x="136.42" y="419.33" font-size="6.3" text-anchor="start" font-weight="bold" font-style="normal" fill="#000" textLength="21.98" lengthAdjust="spacingAndGlyphs" stroke="#000" stroke-width="0.25">process</text>
<rect x="173.60" y="423.27" width="4.10" height="6.60" fill="#000"/>
<line x1="167.90" y1="426.57" x2="172.50" y2="426.57" stroke="#000" stroke-width="1.6"/>
<text x="93.53" y="428.92" font-size="6.3" text-anchor="start" font-weight="bold" font-style="normal" fill="#000" textLength="22.50" lengthAdjust="spacingAndGlyphs" stroke="#000" stroke-width="0.25">platelet</text>
<text x="117.60" y="428.92" font-size="6.3" text-anchor="start" font-weight="bold" font-style="normal" fill="#000" textLength="40.80" lengthAdjust="spacingAndGlyphs" stroke="#000" stroke-width="0.25">degranulation</text>
<rect x="173.60" y="432.86" width="21.40" height="6.60" fill="#000"/>
<line x1="167.90" y1="436.16" x2="172.50" y2="436.16" stroke="#000" stroke-width="1.6"/>
<text x="26.50" y="438.51" font-size="6.3" text-anchor="start" font-weight="bold" font-style="normal" fill="#000" textLength="45.18" lengthAdjust="spacingAndGlyphs" stroke="#000" stroke-width="0.25">organonitrogen</text>
<text x="73.26" y="438.51" font-size="6.3" text-anchor="start" font-weight="bold" font-style="normal" fill="#000" textLength="31.10" lengthAdjust="spacingAndGlyphs" stroke="#000" stroke-width="0.25">compound</text>
<text x="105.93" y="438.51" font-size="6.3" text-anchor="start" font-weight="bold" font-style="normal" fill="#000" textLength="28.91" lengthAdjust="spacingAndGlyphs" stroke="#000" stroke-width="0.25">metabolic</text>
<text x="136.42" y="438.51" font-size="6.3" text-anchor="start" font-weight="bold" font-style="normal" fill="#000" textLength="21.98" lengthAdjust="spacingAndGlyphs" stroke="#000" stroke-width="0.25">process</text>
<rect x="183.60" y="442.46" width="7.30" height="6.60" fill="#000"/>
<rect x="173.60" y="442.46" width="10.30" height="6.60" fill="#0000ff"/>
<line x1="167.90" y1="445.76" x2="172.50" y2="445.76" stroke="#000" stroke-width="1.6"/>
<text x="68.86" y="448.11" font-size="6.3" text-anchor="start" font-weight="bold" font-style="normal" fill="#000" textLength="30.59" lengthAdjust="spacingAndGlyphs" stroke="#000" stroke-width="0.25">neutrophil</text>
<text x="101.03" y="448.11" font-size="6.3" text-anchor="start" font-weight="bold" font-style="normal" fill="#000" textLength="27.78" lengthAdjust="spacingAndGlyphs" stroke="#000" stroke-width="0.25">mediated</text>
<text x="130.39" y="448.11" font-size="6.3" text-anchor="start" font-weight="bold" font-style="normal" fill="#000" textLength="28.01" lengthAdjust="spacingAndGlyphs" stroke="#000" stroke-width="0.25">immunity</text>
<rect x="183.30" y="452.06" width="6.50" height="6.60" fill="#000"/>
<rect x="173.60" y="452.06" width="10.00" height="6.60" fill="#0000ff"/>
<line x1="167.90" y1="455.36" x2="172.50" y2="455.36" stroke="#000" stroke-width="1.6"/>
<text x="85.43" y="457.71" font-size="6.3" text-anchor="start" font-weight="bold" font-style="normal" fill="#000" textLength="30.59" lengthAdjust="spacingAndGlyphs" stroke="#000" stroke-width="0.25">neutrophil</text>
<text x="117.60" y="457.71" font-size="6.3" text-anchor="start" font-weight="bold" font-style="normal" fill="#000" textLength="40.80" lengthAdjust="spacingAndGlyphs" stroke="#000" stroke-width="0.25">degranulation</text>
<rect x="183.60" y="461.65" width="6.80" height="6.60" fill="#000"/>
<rect x="173.60" y="461.65" width="10.30" height="6.60" fill="#0000ff"/>
<line x1="167.90" y1="464.95" x2="172.50" y2="464.95" stroke="#000" stroke-width="1.6"/>
<text x="97.33" y="467.30" font-size="6.3" text-anchor="start" font-weight="bold" font-style="normal" fill="#000" textLength="30.59" lengthAdjust="spacingAndGlyphs" stroke="#000" stroke-width="0.25">neutrophil</text>
<text x="129.50" y="467.30" font-size="6.3" text-anchor="start" font-weight="bold" font-style="normal" fill="#000" textLength="28.90" lengthAdjust="spacingAndGlyphs" stroke="#000" stroke-width="0.25">activation</text>
<rect x="173.60" y="471.24" width="8.70" height="6.60" fill="#000"/>
<line x1="167.90" y1="474.54" x2="172.50" y2="474.54" stroke="#000" stroke-width="1.6"/>
<text x="37.65" y="476.89" font-size="6.3" text-anchor="start" font-weight="bold" font-style="normal" fill="#000" textLength="24.97" lengthAdjust="spacingAndGlyphs" stroke="#000" stroke-width="0.25">negative</text>
<text x="64.19" y="476.89" font-size="6.3" text-anchor="start" font-weight="bold" font-style="normal" fill="#000" textLength="29.85" lengthAdjust="spacingAndGlyphs" stroke="#000" stroke-width="0.25">regulation</text>
<text x="95.62" y="476.89" font-size="6.3" text-anchor="start" font-weight="bold" font-style="normal" fill="#000" textLength="5.96" lengthAdjust="spacingAndGlyphs" stroke="#000" stroke-width="0.25">of</text>
<text x="103.16" y="476.89" font-size="6.3" text-anchor="start" font-weight="bold" font-style="normal" fill="#000" textLength="16.72" lengthAdjust="spacingAndGlyphs" stroke="#000" stroke-width="0.25">signal</text>
<text x="121.46" y="476.89" font-size="6.3" text-anchor="start" font-weight="bold" font-style="normal" fill="#000" textLength="36.94" lengthAdjust="spacingAndGlyphs" stroke="#000" stroke-width="0.25">transduction</text>
<rect x="173.60" y="480.84" width="10.00" height="6.60" fill="#000"/>
<line x1="167.90" y1="484.14" x2="172.50" y2="484.14" stroke="#000" stroke-width="1.6"/>
<text x="32.63" y="486.49" font-size="6.3" text-anchor="start" font-weight="bold" font-style="normal" fill="#000" textLength="24.97" lengthAdjust="spacingAndGlyphs" stroke="#000" stroke-width="0.25">negative</text>
<text x="59.18" y="486.49" font-size="6.3" text-anchor="start" font-weight="bold" font-style="normal" fill="#000" textLength="29.85" lengthAdjust="spacingAndGlyphs" stroke="#000" stroke-width="0.25">regulation</text>
<text x="90.61" y="486.49" font-size="6.3" text-anchor="start" font-weight="bold" font-style="normal" fill="#000" textLength="5.96" lengthAdjust="spacingAndGlyphs" stroke="#000" stroke-width="0.25">of</text>
<text x="98.15" y="486.49" font-size="6.3" text-anchor="start" font-weight="bold" font-style="normal" fill="#000" textLength="26.32" lengthAdjust="spacingAndGlyphs" stroke="#000" stroke-width="0.25">response</text>
<text x="126.05" y="486.49" font-size="6.3" text-anchor="start" font-weight="bold" font-style="normal" fill="#000" textLength="6.18" lengthAdjust="spacingAndGlyphs" stroke="#000" stroke-width="0.25">to</text>
<text x="133.80" y="486.49" font-size="6.3" text-anchor="start" font-weight="bold" font-style="normal" fill="#000" textLength="24.60" lengthAdjust="spacingAndGlyphs" stroke="#000" stroke-width="0.25">stimulus</text>
<rect x="173.60" y="490.44" width="8.50" height="6.60" fill="#000"/>
<line x1="167.90" y1="493.74" x2="172.50" y2="493.74" stroke="#000" stroke-width="1.6"/>
<text x="-0.86" y="496.09" font-size="6.3" text-anchor="start" font-weight="bold" font-style="normal" fill="#000" textLength="24.97" lengthAdjust="spacingAndGlyphs" stroke="#000" stroke-width="0.25">negative</text>
<text x="25.68" y="496.09" font-size="6.3" text-anchor="start" font-weight="bold" font-style="normal" fill="#000" textLength="29.85" lengthAdjust="spacingAndGlyphs" stroke="#000" stroke-width="0.25">regulation</text>
<text x="57.11" y="496.09" font-size="6.3" text-anchor="start" font-weight="bold" font-style="normal" fill="#000" textLength="5.96" lengthAdjust="spacingAndGlyphs" stroke="#000" stroke-width="0.25">of</text>
<text x="64.65" y="496.09" font-size="6.3" text-anchor="start" font-weight="bold" font-style="normal" fill="#000" textLength="36.53" lengthAdjust="spacingAndGlyphs" stroke="#000" stroke-width="0.25">multicellular</text>
<text x="102.76" y="496.09" font-size="6.3" text-anchor="start" font-weight="bold" font-style="normal" fill="#000" textLength="32.08" lengthAdjust="spacingAndGlyphs" stroke="#000" stroke-width="0.25">organismal</text>
<text x="136.42" y="496.09" font-size="6.3" text-anchor="start" font-weight="bold" font-style="normal" fill="#000" textLength="21.98" lengthAdjust="spacingAndGlyphs" stroke="#000" stroke-width="0.25">process</text>
<rect x="184.40" y="500.03" width="7.30" height="6.60" fill="#000"/>
<rect x="173.60" y="500.03" width="11.10" height="6.60" fill="#0000ff"/>
<line x1="167.90" y1="503.33" x2="172.50" y2="503.33" stroke="#000" stroke-width="1.6"/>
<text x="74.67" y="505.68" font-size="6.3" text-anchor="start" font-weight="bold" font-style="normal" fill="#000" textLength="23.43" lengthAdjust="spacingAndGlyphs" stroke="#000" stroke-width="0.25">myeloid</text>
<text x="99.68" y="505.68" font-size="6.3" text-anchor="start" font-weight="bold" font-style="normal" fill="#000" textLength="28.24" lengthAdjust="spacingAndGlyphs" stroke="#000" stroke-width="0.25">leukocyte</text>
<text x="129.50" y="505.68" font-size="6.3" text-anchor="start" font-weight="bold" font-style="normal" fill="#000" textLength="28.90" lengthAdjust="spacingAndGlyphs" stroke="#000" stroke-width="0.25">activation</text>
<rect x="214.70" y="509.63" width="25.20" height="6.60" fill="#000"/>
<rect x="173.60" y="509.63" width="41.40" height="6.60" fill="#0000ff"/>
<line x1="167.90" y1="512.93" x2="172.50" y2="512.93" stroke="#000" stroke-width="1.6"/>
<text x="64.65" y="515.28" font-size="6.3" text-anchor="start" font-weight="bold" font-style="normal" fill="#000" textLength="36.53" lengthAdjust="spacingAndGlyphs" stroke="#000" stroke-width="0.25">multicellular</text>
<text x="102.76" y="515.28" font-size="6.3" text-anchor="start" font-weight="bold" font-style="normal" fill="#000" textLength="32.08" lengthAdjust="spacingAndGlyphs" stroke="#000" stroke-width="0.25">organismal</text>
<text x="136.42" y="515.28" font-size="6.3" text-anchor="start" font-weight="bold" font-style="normal" fill="#000" textLength="21.98" lengthAdjust="spacingAndGlyphs" stroke="#000" stroke-width="0.25">process</text>
<rect x="208.50" y="519.22" width="21.30" height="6.60" fill="#000"/>
<rect x="173.60" y="519.22" width="35.20" height="6.60" fill="#0000ff"/>
<line x1="167.90" y1="522.52" x2="172.50" y2="522.52" stroke="#000" stroke-width="1.6"/>
<text x="53.15" y="524.87" font-size="6.3" text-anchor="start" font-weight="bold" font-style="normal" fill="#000" textLength="36.53" lengthAdjust="spacingAndGlyphs" stroke="#000" stroke-width="0.25">multicellular</text>
<text x="91.26" y="524.87" font-size="6.3" text-anchor="start" font-weight="bold" font-style="normal" fill="#000" textLength="26.91" lengthAdjust="spacingAndGlyphs" stroke="#000" stroke-width="0.25">organism</text>
<text x="119.75" y="524.87" font-size="6.3" text-anchor="start" font-weight="bold" font-style="normal" fill="#000" textLength="38.65" lengthAdjust="spacingAndGlyphs" stroke="#000" stroke-width="0.25">development</text>
<rect x="173.60" y="528.82" width="34.40" height="6.60" fill="#0000ff"/>
<line x1="167.90" y1="532.12" x2="172.50" y2="532.12" stroke="#000" stroke-width="1.6"/>
<text x="125.27" y="534.47" font-size="6.3" text-anchor="start" font-weight="bold" font-style="normal" fill="#000" textLength="33.13" lengthAdjust="spacingAndGlyphs" stroke="#000" stroke-width="0.25">localization</text>
<rect x="185.10" y="538.41" width="7.70" height="6.60" fill="#000"/>
<rect x="173.60" y="538.41" width="11.80" height="6.60" fill="#0000ff"/>
<line x1="167.90" y1="541.71" x2="172.50" y2="541.71" stroke="#000" stroke-width="1.6"/>
<text x="71.21" y="544.06" font-size="6.3" text-anchor="start" font-weight="bold" font-style="normal" fill="#000" textLength="28.24" lengthAdjust="spacingAndGlyphs" stroke="#000" stroke-width="0.25">leukocyte</text>
<text x="101.03" y="544.06" font-size="6.3" text-anchor="start" font-weight="bold" font-style="normal" fill="#000" textLength="27.78" lengthAdjust="spacingAndGlyphs" stroke="#000" stroke-width="0.25">mediated</text>
<text x="130.39" y="544.06" font-size="6.3" text-anchor="start" font-weight="bold" font-style="normal" fill="#000" textLength="28.01" lengthAdjust="spacingAndGlyphs" stroke="#000" stroke-width="0.25">immunity</text>
<rect x="173.60" y="548.01" width="10.30" height="6.60" fill="#0000ff"/>
<line x1="167.90" y1="551.31" x2="172.50" y2="551.31" stroke="#000" stroke-width="1.6"/>
<text x="12.71" y="553.66" font-size="6.3" text-anchor="start" font-weight="bold" font-style="normal" fill="#000" textLength="28.24" lengthAdjust="spacingAndGlyphs" stroke="#000" stroke-width="0.25">leukocyte</text>
<text x="42.53" y="553.66" font-size="6.3" text-anchor="start" font-weight="bold" font-style="normal" fill="#000" textLength="28.90" lengthAdjust="spacingAndGlyphs" stroke="#000" stroke-width="0.25">activation</text>
<text x="73.01" y="553.66" font-size="6.3" text-anchor="start" font-weight="bold" font-style="normal" fill="#000" textLength="24.80" lengthAdjust="spacingAndGlyphs" stroke="#000" stroke-width="0.25">involved</text>
<text x="99.38" y="553.66" font-size="6.3" text-anchor="start" font-weight="bold" font-style="normal" fill="#000" textLength="5.47" lengthAdjust="spacingAndGlyphs" stroke="#000" stroke-width="0.25">in</text>
<text x="106.43" y="553.66" font-size="6.3" text-anchor="start" font-weight="bold" font-style="normal" fill="#000" textLength="24.07" lengthAdjust="spacingAndGlyphs" stroke="#000" stroke-width="0.25">immune</text>
<text x="132.08" y="553.66" font-size="6.3" text-anchor="start" font-weight="bold" font-style="normal" fill="#000" textLength="26.32" lengthAdjust="spacingAndGlyphs" stroke="#000" stroke-width="0.25">response</text>
<rect x="173.60" y="557.60" width="13.10" height="6.60" fill="#0000ff"/>
<line x1="167.90" y1="560.90" x2="172.50" y2="560.90" stroke="#000" stroke-width="1.6"/>
<text x="99.68" y="563.25" font-size="6.3" text-anchor="start" font-weight="bold" font-style="normal" fill="#000" textLength="28.24" lengthAdjust="spacingAndGlyphs" stroke="#000" stroke-width="0.25">leukocyte</text>
<text x="129.50" y="563.25" font-size="6.3" text-anchor="start" font-weight="bold" font-style="normal" fill="#000" textLength="28.90" lengthAdjust="spacingAndGlyphs" stroke="#000" stroke-width="0.25">activation</text>
<rect x="195.60" y="567.20" width="14.10" height="6.60" fill="#000"/>
<rect x="173.60" y="567.20" width="22.30" height="6.60" fill="#0000ff"/>
<line x1="167.90" y1="570.50" x2="172.50" y2="570.50" stroke="#000" stroke-width="1.6"/>
<text x="88.70" y="572.85" font-size="6.3" text-anchor="start" font-weight="bold" font-style="normal" fill="#000" textLength="24.07" lengthAdjust="spacingAndGlyphs" stroke="#000" stroke-width="0.25">immune</text>
<text x="114.36" y="572.85" font-size="6.3" text-anchor="start" font-weight="bold" font-style="normal" fill="#000" textLength="20.49" lengthAdjust="spacingAndGlyphs" stroke="#000" stroke-width="0.25">system</text>
<text x="136.42" y="572.85" font-size="6.3" text-anchor="start" font-weight="bold" font-style="normal" fill="#000" textLength="21.98" lengthAdjust="spacingAndGlyphs" stroke="#000" stroke-width="0.25">process</text>
<rect x="173.60" y="576.79" width="16.40" height="6.60" fill="#0000ff"/>
<line x1="167.90" y1="580.09" x2="172.50" y2="580.09" stroke="#000" stroke-width="1.6"/>
<text x="106.43" y="582.44" font-size="6.3" text-anchor="start" font-weight="bold" font-style="normal" fill="#000" textLength="24.07" lengthAdjust="spacingAndGlyphs" stroke="#000" stroke-width="0.25">immune</text>
<text x="132.08" y="582.44" font-size="6.3" text-anchor="start" font-weight="bold" font-style="normal" fill="#000" textLength="26.32" lengthAdjust="spacingAndGlyphs" stroke="#000" stroke-width="0.25">response</text>
<rect x="173.60" y="586.39" width="7.90" height="6.60" fill="#000"/>
<line x1="167.90" y1="589.69" x2="172.50" y2="589.69" stroke="#000" stroke-width="1.6"/>
<text x="86.18" y="592.04" font-size="6.3" text-anchor="start" font-weight="bold" font-style="normal" fill="#000" textLength="24.07" lengthAdjust="spacingAndGlyphs" stroke="#000" stroke-width="0.25">immune</text>
<text x="111.84" y="592.04" font-size="6.3" text-anchor="start" font-weight="bold" font-style="normal" fill="#000" textLength="23.01" lengthAdjust="spacingAndGlyphs" stroke="#000" stroke-width="0.25">effector</text>
<text x="136.42" y="592.04" font-size="6.3" text-anchor="start" font-weight="bold" font-style="normal" fill="#000" textLength="21.98" lengthAdjust="spacingAndGlyphs" stroke="#000" stroke-width="0.25">process</text>
<rect x="186.90" y="595.98" width="9.00" height="6.60" fill="#000"/>
<rect x="173.60" y="595.98" width="13.60" height="6.60" fill="#0000ff"/>
<line x1="167.90" y1="599.28" x2="172.50" y2="599.28" stroke="#000" stroke-width="1.6"/>
<text x="56.10" y="601.63" font-size="6.3" text-anchor="start" font-weight="bold" font-style="normal" fill="#000" textLength="36.32" lengthAdjust="spacingAndGlyphs" stroke="#000" stroke-width="0.25">extracellular</text>
<text x="94.00" y="601.63" font-size="6.3" text-anchor="start" font-weight="bold" font-style="normal" fill="#000" textLength="26.51" lengthAdjust="spacingAndGlyphs" stroke="#000" stroke-width="0.25">structure</text>
<text x="122.08" y="601.63" font-size="6.3" text-anchor="start" font-weight="bold" font-style="normal" fill="#000" textLength="36.32" lengthAdjust="spacingAndGlyphs" stroke="#000" stroke-width="0.25">organization</text>
<rect x="186.90" y="605.58" width="7.90" height="6.60" fill="#000"/>
<rect x="173.60" y="605.58" width="13.60" height="6.60" fill="#0000ff"/>
<line x1="167.90" y1="608.88" x2="172.50" y2="608.88" stroke="#000" stroke-width="1.6"/>
<text x="63.67" y="611.23" font-size="6.3" text-anchor="start" font-weight="bold" font-style="normal" fill="#000" textLength="36.32" lengthAdjust="spacingAndGlyphs" stroke="#000" stroke-width="0.25">extracellular</text>
<text x="101.56" y="611.23" font-size="6.3" text-anchor="start" font-weight="bold" font-style="normal" fill="#000" textLength="18.94" lengthAdjust="spacingAndGlyphs" stroke="#000" stroke-width="0.25">matrix</text>
<text x="122.08" y="611.23" font-size="6.3" text-anchor="start" font-weight="bold" font-style="normal" fill="#000" textLength="36.32" lengthAdjust="spacingAndGlyphs" stroke="#000" stroke-width="0.25">organization</text>
<rect x="211.60" y="615.17" width="23.50" height="6.60" fill="#000"/>
<rect x="173.60" y="615.17" width="38.30" height="6.60" fill="#0000ff"/>
<line x1="167.90" y1="618.47" x2="172.50" y2="618.47" stroke="#000" stroke-width="1.6"/>
<text x="91.03" y="620.82" font-size="6.3" text-anchor="start" font-weight="bold" font-style="normal" fill="#000" textLength="43.81" lengthAdjust="spacingAndGlyphs" stroke="#000" stroke-width="0.25">developmental</text>
<text x="136.42" y="620.82" font-size="6.3" text-anchor="start" font-weight="bold" font-style="normal" fill="#000" textLength="21.98" lengthAdjust="spacingAndGlyphs" stroke="#000" stroke-width="0.25">process</text>
<rect x="173.60" y="624.77" width="22.30" height="6.60" fill="#0000ff"/>
<line x1="167.90" y1="628.07" x2="172.50" y2="628.07" stroke="#000" stroke-width="1.6"/>
<text x="47.85" y="630.42" font-size="6.3" text-anchor="start" font-weight="bold" font-style="normal" fill="#000" textLength="21.25" lengthAdjust="spacingAndGlyphs" stroke="#000" stroke-width="0.25">cellular</text>
<text x="70.68" y="630.42" font-size="6.3" text-anchor="start" font-weight="bold" font-style="normal" fill="#000" textLength="26.32" lengthAdjust="spacingAndGlyphs" stroke="#000" stroke-width="0.25">response</text>
<text x="98.58" y="630.42" font-size="6.3" text-anchor="start" font-weight="bold" font-style="normal" fill="#000" textLength="6.18" lengthAdjust="spacingAndGlyphs" stroke="#000" stroke-width="0.25">to</text>
<text x="106.34" y="630.42" font-size="6.3" text-anchor="start" font-weight="bold" font-style="normal" fill="#000" textLength="21.37" lengthAdjust="spacingAndGlyphs" stroke="#000" stroke-width="0.25">organic</text>
<text x="129.29" y="630.42" font-size="6.3" text-anchor="start" font-weight="bold" font-style="normal" fill="#000" textLength="29.11" lengthAdjust="spacingAndGlyphs" stroke="#000" stroke-width="0.25">substance</text>
<rect x="173.60" y="634.36" width="23.80" height="6.60" fill="#0000ff"/>
<line x1="167.90" y1="637.66" x2="172.50" y2="637.66" stroke="#000" stroke-width="1.6"/>
<text x="48.09" y="640.01" font-size="6.3" text-anchor="start" font-weight="bold" font-style="normal" fill="#000" textLength="21.25" lengthAdjust="spacingAndGlyphs" stroke="#000" stroke-width="0.25">cellular</text>
<text x="70.92" y="640.01" font-size="6.3" text-anchor="start" font-weight="bold" font-style="normal" fill="#000" textLength="26.32" lengthAdjust="spacingAndGlyphs" stroke="#000" stroke-width="0.25">response</text>
<text x="98.82" y="640.01" font-size="6.3" text-anchor="start" font-weight="bold" font-style="normal" fill="#000" textLength="6.18" lengthAdjust="spacingAndGlyphs" stroke="#000" stroke-width="0.25">to</text>
<text x="106.57" y="640.01" font-size="6.3" text-anchor="start" font-weight="bold" font-style="normal" fill="#000" textLength="25.65" lengthAdjust="spacingAndGlyphs" stroke="#000" stroke-width="0.25">chemical</text>
<text x="133.80" y="640.01" font-size="6.3" text-anchor="start" font-weight="bold" font-style="normal" fill="#000" textLength="24.60" lengthAdjust="spacingAndGlyphs" stroke="#000" stroke-width="0.25">stimulus</text>
<rect x="173.60" y="643.96" width="36.30" height="6.60" fill="#0000ff"/>
<line x1="167.90" y1="647.25" x2="172.50" y2="647.25" stroke="#000" stroke-width="1.6"/>
<text x="64.39" y="649.61" font-size="6.3" text-anchor="start" font-weight="bold" font-style="normal" fill="#000" textLength="21.25" lengthAdjust="spacingAndGlyphs" stroke="#000" stroke-width="0.25">cellular</text>
<text x="87.22" y="649.61" font-size="6.3" text-anchor="start" font-weight="bold" font-style="normal" fill="#000" textLength="33.28" lengthAdjust="spacingAndGlyphs" stroke="#000" stroke-width="0.25">component</text>
<text x="122.08" y="649.61" font-size="6.3" text-anchor="start" font-weight="bold" font-style="normal" fill="#000" textLength="36.32" lengthAdjust="spacingAndGlyphs" stroke="#000" stroke-width="0.25">organization</text>
<rect x="185.50" y="653.55" width="8.70" height="6.60" fill="#000"/>
<rect x="173.60" y="653.55" width="12.20" height="6.60" fill="#0000ff"/>
<line x1="167.90" y1="656.85" x2="172.50" y2="656.85" stroke="#000" stroke-width="1.6"/>
<text x="120.50" y="659.20" font-size="6.3" text-anchor="start" font-weight="bold" font-style="normal" fill="#000" textLength="9.86" lengthAdjust="spacingAndGlyphs" stroke="#000" stroke-width="0.25">cell</text>
<text x="131.94" y="659.20" font-size="6.3" text-anchor="start" font-weight="bold" font-style="normal" fill="#000" textLength="26.46" lengthAdjust="spacingAndGlyphs" stroke="#000" stroke-width="0.25">adhesion</text>
<rect x="173.60" y="663.15" width="10.50" height="6.60" fill="#0000ff"/>
<line x1="167.90" y1="666.45" x2="172.50" y2="666.45" stroke="#000" stroke-width="1.6"/>
<text x="31.09" y="668.80" font-size="6.3" text-anchor="start" font-weight="bold" font-style="normal" fill="#000" textLength="9.86" lengthAdjust="spacingAndGlyphs" stroke="#000" stroke-width="0.25">cell</text>
<text x="42.53" y="668.80" font-size="6.3" text-anchor="start" font-weight="bold" font-style="normal" fill="#000" textLength="28.90" lengthAdjust="spacingAndGlyphs" stroke="#000" stroke-width="0.25">activation</text>
<text x="73.01" y="668.80" font-size="6.3" text-anchor="start" font-weight="bold" font-style="normal" fill="#000" textLength="24.80" lengthAdjust="spacingAndGlyphs" stroke="#000" stroke-width="0.25">involved</text>
<text x="99.38" y="668.80" font-size="6.3" text-anchor="start" font-weight="bold" font-style="normal" fill="#000" textLength="5.47" lengthAdjust="spacingAndGlyphs" stroke="#000" stroke-width="0.25">in</text>
<text x="106.43" y="668.80" font-size="6.3" text-anchor="start" font-weight="bold" font-style="normal" fill="#000" textLength="24.07" lengthAdjust="spacingAndGlyphs" stroke="#000" stroke-width="0.25">immune</text>
<text x="132.08" y="668.80" font-size="6.3" text-anchor="start" font-weight="bold" font-style="normal" fill="#000" textLength="26.32" lengthAdjust="spacingAndGlyphs" stroke="#000" stroke-width="0.25">response</text>
<rect x="173.60" y="672.74" width="15.10" height="6.60" fill="#0000ff"/>
<line x1="167.90" y1="676.04" x2="172.50" y2="676.04" stroke="#000" stroke-width="1.6"/>
<text x="118.06" y="678.39" font-size="6.3" text-anchor="start" font-weight="bold" font-style="normal" fill="#000" textLength="9.86" lengthAdjust="spacingAndGlyphs" stroke="#000" stroke-width="0.25">cell</text>
<text x="129.50" y="678.39" font-size="6.3" text-anchor="start" font-weight="bold" font-style="normal" fill="#000" textLength="28.90" lengthAdjust="spacingAndGlyphs" stroke="#000" stroke-width="0.25">activation</text>
<rect x="185.50" y="682.34" width="9.30" height="6.60" fill="#000"/>
<rect x="173.60" y="682.34" width="12.20" height="6.60" fill="#0000ff"/>
<line x1="167.90" y1="685.63" x2="172.50" y2="685.63" stroke="#000" stroke-width="1.6"/>
<text x="102.56" y="687.99" font-size="6.3" text-anchor="start" font-weight="bold" font-style="normal" fill="#000" textLength="27.80" lengthAdjust="spacingAndGlyphs" stroke="#000" stroke-width="0.25">biological</text>
<text x="131.94" y="687.99" font-size="6.3" text-anchor="start" font-weight="bold" font-style="normal" fill="#000" textLength="26.46" lengthAdjust="spacingAndGlyphs" stroke="#000" stroke-width="0.25">adhesion</text>
<rect x="194.10" y="691.93" width="13.60" height="6.60" fill="#000"/>
<rect x="173.60" y="691.93" width="20.80" height="6.60" fill="#0000ff"/>
<line x1="167.90" y1="695.23" x2="172.50" y2="695.23" stroke="#000" stroke-width="1.6"/>
<text x="51.91" y="697.58" font-size="6.3" text-anchor="start" font-weight="bold" font-style="normal" fill="#000" textLength="32.30" lengthAdjust="spacingAndGlyphs" stroke="#000" stroke-width="0.25">anatomical</text>
<text x="85.79" y="697.58" font-size="6.3" text-anchor="start" font-weight="bold" font-style="normal" fill="#000" textLength="26.51" lengthAdjust="spacingAndGlyphs" stroke="#000" stroke-width="0.25">structure</text>
<text x="113.87" y="697.58" font-size="6.3" text-anchor="start" font-weight="bold" font-style="normal" fill="#000" textLength="44.53" lengthAdjust="spacingAndGlyphs" stroke="#000" stroke-width="0.25">morphogenesis</text>
<rect x="210.70" y="701.53" width="22.20" height="6.60" fill="#000"/>
<rect x="173.60" y="701.53" width="37.40" height="6.60" fill="#0000ff"/>
<line x1="167.90" y1="704.83" x2="172.50" y2="704.83" stroke="#000" stroke-width="1.6"/>
<text x="57.79" y="707.18" font-size="6.3" text-anchor="start" font-weight="bold" font-style="normal" fill="#000" textLength="32.30" lengthAdjust="spacingAndGlyphs" stroke="#000" stroke-width="0.25">anatomical</text>
<text x="91.66" y="707.18" font-size="6.3" text-anchor="start" font-weight="bold" font-style="normal" fill="#000" textLength="26.51" lengthAdjust="spacingAndGlyphs" stroke="#000" stroke-width="0.25">structure</text>
<text x="119.75" y="707.18" font-size="6.3" text-anchor="start" font-weight="bold" font-style="normal" fill="#000" textLength="38.65" lengthAdjust="spacingAndGlyphs" stroke="#000" stroke-width="0.25">development</text>
<line x1="173.00" y1="169.80" x2="173.00" y2="711.20" stroke="#000" stroke-width="2"/>
<line x1="172.00" y1="710.50" x2="278.10" y2="710.50" stroke="#000" stroke-width="2.0"/>
<line x1="172.90" y1="710.40" x2="172.90" y2="715.90" stroke="#000" stroke-width="1.6"/>
<text x="172.90" y="724.80" font-size="6.8" text-anchor="middle" font-weight="bold" font-style="normal" fill="#000" textLength="3.60" lengthAdjust="spacingAndGlyphs" stroke="#000" stroke-width="0.25">0</text>
<line x1="199.00" y1="710.40" x2="199.00" y2="715.90" stroke="#000" stroke-width="1.6"/>
<text x="199.00" y="724.80" font-size="6.8" text-anchor="middle" font-weight="bold" font-style="normal" fill="#000" textLength="10.40" lengthAdjust="spacingAndGlyphs" stroke="#000" stroke-width="0.25">100</text>
<line x1="225.10" y1="710.40" x2="225.10" y2="715.90" stroke="#000" stroke-width="1.6"/>
<text x="225.10" y="724.80" font-size="6.8" text-anchor="middle" font-weight="bold" font-style="normal" fill="#000" textLength="10.40" lengthAdjust="spacingAndGlyphs" stroke="#000" stroke-width="0.25">200</text>
<line x1="251.20" y1="710.40" x2="251.20" y2="715.90" stroke="#000" stroke-width="1.6"/>
<text x="251.20" y="724.80" font-size="6.8" text-anchor="middle" font-weight="bold" font-style="normal" fill="#000" textLength="10.40" lengthAdjust="spacingAndGlyphs" stroke="#000" stroke-width="0.25">300</text>
<line x1="277.30" y1="710.40" x2="277.30" y2="715.90" stroke="#000" stroke-width="1.6"/>
<text x="277.30" y="724.80" font-size="6.8" text-anchor="middle" font-weight="bold" font-style="normal" fill="#000" textLength="10.40" lengthAdjust="spacingAndGlyphs" stroke="#000" stroke-width="0.25">400</text>
<text x="193.80" y="737.30" font-size="6.3" text-anchor="start" font-weight="bold" font-style="normal" fill="#000" textLength="26.24" lengthAdjust="spacingAndGlyphs" stroke="#000" stroke-width="0.25">Number</text>
<text x="221.78" y="737.30" font-size="6.3" text-anchor="start" font-weight="bold" font-style="normal" fill="#000" textLength="6.58" lengthAdjust="spacingAndGlyphs" stroke="#000" stroke-width="0.25">of</text>
<text x="230.11" y="737.30" font-size="6.3" text-anchor="start" font-weight="bold" font-style="normal" fill="#000" textLength="26.69" lengthAdjust="spacingAndGlyphs" stroke="#000" stroke-width="0.25">proteins</text>
<rect x="573.50" y="178.15" width="14.60" height="5.30" fill="#0000ff"/>
<line x1="567.00" y1="180.80" x2="572.50" y2="180.80" stroke="#000" stroke-width="1.8"/>
<text x="512.38" y="183.20" font-size="6.5" text-anchor="start" font-weight="bold" font-style="normal" fill="#000" textLength="21.07" lengthAdjust="spacingAndGlyphs" stroke="#000" stroke-width="0.25">wound</text>
<text x="535.09" y="183.20" font-size="6.5" text-anchor="start" font-weight="bold" font-style="normal" fill="#000" textLength="22.11" lengthAdjust="spacingAndGlyphs" stroke="#000" stroke-width="0.25">healing</text>
<rect x="573.50" y="185.48" width="18.95" height="5.30" fill="#000"/>
<line x1="567.00" y1="188.13" x2="572.50" y2="188.13" stroke="#000" stroke-width="1.8"/>
<text x="475.60" y="190.53" font-size="6.5" text-anchor="start" font-weight="bold" font-style="normal" fill="#000" textLength="51.50" lengthAdjust="spacingAndGlyphs" stroke="#000" stroke-width="0.25">vesicle-mediated</text>
<text x="528.74" y="190.53" font-size="6.5" text-anchor="start" font-weight="bold" font-style="normal" fill="#000" textLength="28.46" lengthAdjust="spacingAndGlyphs" stroke="#000" stroke-width="0.25">transport</text>
<rect x="598.69" y="192.81" width="19.90" height="5.30" fill="#000"/>
<rect x="573.50" y="192.81" width="25.49" height="5.30" fill="#0000ff"/>
<line x1="567.00" y1="195.46" x2="572.50" y2="195.46" stroke="#000" stroke-width="1.8"/>
<text x="497.55" y="197.86" font-size="6.5" text-anchor="start" font-weight="bold" font-style="normal" fill="#000" textLength="17.70" lengthAdjust="spacingAndGlyphs" stroke="#000" stroke-width="0.25">tissue</text>
<text x="516.89" y="197.86" font-size="6.5" text-anchor="start" font-weight="bold" font-style="normal" fill="#000" textLength="40.31" lengthAdjust="spacingAndGlyphs" stroke="#000" stroke-width="0.25">development</text>
<rect x="573.50" y="200.14" width="45.09" height="5.30" fill="#0000ff"/>
<line x1="567.00" y1="202.79" x2="572.50" y2="202.79" stroke="#000" stroke-width="1.8"/>
<text x="493.88" y="205.19" font-size="6.5" text-anchor="start" font-weight="bold" font-style="normal" fill="#000" textLength="21.37" lengthAdjust="spacingAndGlyphs" stroke="#000" stroke-width="0.25">system</text>
<text x="516.89" y="205.19" font-size="6.5" text-anchor="start" font-weight="bold" font-style="normal" fill="#000" textLength="40.31" lengthAdjust="spacingAndGlyphs" stroke="#000" stroke-width="0.25">development</text>
<rect x="589.97" y="207.47" width="9.01" height="5.30" fill="#000"/>
<rect x="573.50" y="207.47" width="16.77" height="5.30" fill="#0000ff"/>
<line x1="567.00" y1="210.12" x2="572.50" y2="210.12" stroke="#000" stroke-width="1.8"/>
<text x="454.67" y="212.52" font-size="6.5" text-anchor="start" font-weight="bold" font-style="normal" fill="#000" textLength="47.12" lengthAdjust="spacingAndGlyphs" stroke="#000" stroke-width="0.25">supramolecular</text>
<text x="503.43" y="212.52" font-size="6.5" text-anchor="start" font-weight="bold" font-style="normal" fill="#000" textLength="14.25" lengthAdjust="spacingAndGlyphs" stroke="#000" stroke-width="0.25">fiber</text>
<text x="519.32" y="212.52" font-size="6.5" text-anchor="start" font-weight="bold" font-style="normal" fill="#000" textLength="37.88" lengthAdjust="spacingAndGlyphs" stroke="#000" stroke-width="0.25">organization</text>
<rect x="573.50" y="214.79" width="8.06" height="5.30" fill="#000"/>
<line x1="567.00" y1="217.44" x2="572.50" y2="217.44" stroke="#000" stroke-width="1.8"/>
<text x="458.43" y="219.84" font-size="6.5" text-anchor="start" font-weight="bold" font-style="normal" fill="#000" textLength="16.00" lengthAdjust="spacingAndGlyphs" stroke="#000" stroke-width="0.25">small</text>
<text x="476.08" y="219.84" font-size="6.5" text-anchor="start" font-weight="bold" font-style="normal" fill="#000" textLength="27.69" lengthAdjust="spacingAndGlyphs" stroke="#000" stroke-width="0.25">molecule</text>
<text x="505.42" y="219.84" font-size="6.5" text-anchor="start" font-weight="bold" font-style="normal" fill="#000" textLength="27.21" lengthAdjust="spacingAndGlyphs" stroke="#000" stroke-width="0.25">catabolic</text>
<text x="534.28" y="219.84" font-size="6.5" text-anchor="start" font-weight="bold" font-style="normal" fill="#000" textLength="22.92" lengthAdjust="spacingAndGlyphs" stroke="#000" stroke-width="0.25">process</text>
<rect x="573.50" y="222.12" width="16.77" height="5.30" fill="#0000ff"/>
<line x1="567.00" y1="224.77" x2="572.50" y2="224.77" stroke="#000" stroke-width="1.8"/>
<text x="489.79" y="227.17" font-size="6.5" text-anchor="start" font-weight="bold" font-style="normal" fill="#000" textLength="27.45" lengthAdjust="spacingAndGlyphs" stroke="#000" stroke-width="0.25">response</text>
<text x="518.89" y="227.17" font-size="6.5" text-anchor="start" font-weight="bold" font-style="normal" fill="#000" textLength="6.44" lengthAdjust="spacingAndGlyphs" stroke="#000" stroke-width="0.25">to</text>
<text x="526.98" y="227.17" font-size="6.5" text-anchor="start" font-weight="bold" font-style="normal" fill="#000" textLength="30.22" lengthAdjust="spacingAndGlyphs" stroke="#000" stroke-width="0.25">wounding</text>
<rect x="573.50" y="229.45" width="21.13" height="5.30" fill="#000"/>
<line x1="567.00" y1="232.10" x2="572.50" y2="232.10" stroke="#000" stroke-width="1.8"/>
<text x="502.53" y="234.50" font-size="6.5" text-anchor="start" font-weight="bold" font-style="normal" fill="#000" textLength="27.45" lengthAdjust="spacingAndGlyphs" stroke="#000" stroke-width="0.25">response</text>
<text x="531.63" y="234.50" font-size="6.5" text-anchor="start" font-weight="bold" font-style="normal" fill="#000" textLength="6.44" lengthAdjust="spacingAndGlyphs" stroke="#000" stroke-width="0.25">to</text>
<text x="539.71" y="234.50" font-size="6.5" text-anchor="start" font-weight="bold" font-style="normal" fill="#000" textLength="17.49" lengthAdjust="spacingAndGlyphs" stroke="#000" stroke-width="0.25">stress</text>
<rect x="573.50" y="236.78" width="29.84" height="5.30" fill="#000"/>
<line x1="567.00" y1="239.43" x2="572.50" y2="239.43" stroke="#000" stroke-width="1.8"/>
<text x="494.36" y="241.83" font-size="6.5" text-anchor="start" font-weight="bold" font-style="normal" fill="#000" textLength="27.45" lengthAdjust="spacingAndGlyphs" stroke="#000" stroke-width="0.25">response</text>
<text x="523.46" y="241.83" font-size="6.5" text-anchor="start" font-weight="bold" font-style="normal" fill="#000" textLength="6.44" lengthAdjust="spacingAndGlyphs" stroke="#000" stroke-width="0.25">to</text>
<text x="531.55" y="241.83" font-size="6.5" text-anchor="start" font-weight="bold" font-style="normal" fill="#000" textLength="25.65" lengthAdjust="spacingAndGlyphs" stroke="#000" stroke-width="0.25">stimulus</text>
<rect x="573.50" y="244.11" width="16.77" height="5.30" fill="#000"/>
<line x1="567.00" y1="246.76" x2="572.50" y2="246.76" stroke="#000" stroke-width="1.8"/>
<text x="473.70" y="249.16" font-size="6.5" text-anchor="start" font-weight="bold" font-style="normal" fill="#000" textLength="27.45" lengthAdjust="spacingAndGlyphs" stroke="#000" stroke-width="0.25">response</text>
<text x="502.80" y="249.16" font-size="6.5" text-anchor="start" font-weight="bold" font-style="normal" fill="#000" textLength="6.44" lengthAdjust="spacingAndGlyphs" stroke="#000" stroke-width="0.25">to</text>
<text x="510.88" y="249.16" font-size="6.5" text-anchor="start" font-weight="bold" font-style="normal" fill="#000" textLength="16.60" lengthAdjust="spacingAndGlyphs" stroke="#000" stroke-width="0.25">other</text>
<text x="529.13" y="249.16" font-size="6.5" text-anchor="start" font-weight="bold" font-style="normal" fill="#000" textLength="28.07" lengthAdjust="spacingAndGlyphs" stroke="#000" stroke-width="0.25">organism</text>
<rect x="573.50" y="251.44" width="36.38" height="5.30" fill="#0000ff"/>
<line x1="567.00" y1="254.09" x2="572.50" y2="254.09" stroke="#000" stroke-width="1.8"/>
<text x="465.71" y="256.49" font-size="6.5" text-anchor="start" font-weight="bold" font-style="normal" fill="#000" textLength="27.45" lengthAdjust="spacingAndGlyphs" stroke="#000" stroke-width="0.25">response</text>
<text x="494.81" y="256.49" font-size="6.5" text-anchor="start" font-weight="bold" font-style="normal" fill="#000" textLength="6.44" lengthAdjust="spacingAndGlyphs" stroke="#000" stroke-width="0.25">to</text>
<text x="502.90" y="256.49" font-size="6.5" text-anchor="start" font-weight="bold" font-style="normal" fill="#000" textLength="22.29" lengthAdjust="spacingAndGlyphs" stroke="#000" stroke-width="0.25">organic</text>
<text x="526.84" y="256.49" font-size="6.5" text-anchor="start" font-weight="bold" font-style="normal" fill="#000" textLength="30.36" lengthAdjust="spacingAndGlyphs" stroke="#000" stroke-width="0.25">substance</text>
<rect x="573.50" y="258.77" width="8.06" height="5.30" fill="#000"/>
<line x1="567.00" y1="261.42" x2="572.50" y2="261.42" stroke="#000" stroke-width="1.8"/>
<text x="489.07" y="263.82" font-size="6.5" text-anchor="start" font-weight="bold" font-style="normal" fill="#000" textLength="27.45" lengthAdjust="spacingAndGlyphs" stroke="#000" stroke-width="0.25">response</text>
<text x="518.17" y="263.82" font-size="6.5" text-anchor="start" font-weight="bold" font-style="normal" fill="#000" textLength="6.44" lengthAdjust="spacingAndGlyphs" stroke="#000" stroke-width="0.25">to</text>
<text x="526.26" y="263.82" font-size="6.5" text-anchor="start" font-weight="bold" font-style="normal" fill="#000" textLength="30.94" lengthAdjust="spacingAndGlyphs" stroke="#000" stroke-width="0.25">bacterium</text>
<rect x="573.50" y="266.10" width="5.88" height="5.30" fill="#000"/>
<line x1="567.00" y1="268.75" x2="572.50" y2="268.75" stroke="#000" stroke-width="1.8"/>
<text x="483.50" y="271.15" font-size="6.5" text-anchor="start" font-weight="bold" font-style="normal" fill="#000" textLength="31.14" lengthAdjust="spacingAndGlyphs" stroke="#000" stroke-width="0.25">regulation</text>
<text x="516.29" y="271.15" font-size="6.5" text-anchor="start" font-weight="bold" font-style="normal" fill="#000" textLength="6.22" lengthAdjust="spacingAndGlyphs" stroke="#000" stroke-width="0.25">of</text>
<text x="524.15" y="271.15" font-size="6.5" text-anchor="start" font-weight="bold" font-style="normal" fill="#000" textLength="33.05" lengthAdjust="spacingAndGlyphs" stroke="#000" stroke-width="0.25">translation</text>
<rect x="573.50" y="273.43" width="16.77" height="5.30" fill="#000"/>
<line x1="567.00" y1="276.08" x2="572.50" y2="276.08" stroke="#000" stroke-width="1.8"/>
<text x="418.78" y="278.48" font-size="6.5" text-anchor="start" font-weight="bold" font-style="normal" fill="#000" textLength="31.14" lengthAdjust="spacingAndGlyphs" stroke="#000" stroke-width="0.25">regulation</text>
<text x="451.56" y="278.48" font-size="6.5" text-anchor="start" font-weight="bold" font-style="normal" fill="#000" textLength="6.22" lengthAdjust="spacingAndGlyphs" stroke="#000" stroke-width="0.25">of</text>
<text x="459.42" y="278.48" font-size="6.5" text-anchor="start" font-weight="bold" font-style="normal" fill="#000" textLength="38.10" lengthAdjust="spacingAndGlyphs" stroke="#000" stroke-width="0.25">multicellular</text>
<text x="499.17" y="278.48" font-size="6.5" text-anchor="start" font-weight="bold" font-style="normal" fill="#000" textLength="33.46" lengthAdjust="spacingAndGlyphs" stroke="#000" stroke-width="0.25">organismal</text>
<text x="534.28" y="278.48" font-size="6.5" text-anchor="start" font-weight="bold" font-style="normal" fill="#000" textLength="22.92" lengthAdjust="spacingAndGlyphs" stroke="#000" stroke-width="0.25">process</text>
<rect x="573.50" y="280.76" width="16.77" height="5.30" fill="#000"/>
<line x1="567.00" y1="283.41" x2="572.50" y2="283.41" stroke="#000" stroke-width="1.8"/>
<text x="482.00" y="285.81" font-size="6.5" text-anchor="start" font-weight="bold" font-style="normal" fill="#000" textLength="31.14" lengthAdjust="spacingAndGlyphs" stroke="#000" stroke-width="0.25">regulation</text>
<text x="514.78" y="285.81" font-size="6.5" text-anchor="start" font-weight="bold" font-style="normal" fill="#000" textLength="6.22" lengthAdjust="spacingAndGlyphs" stroke="#000" stroke-width="0.25">of</text>
<text x="522.64" y="285.81" font-size="6.5" text-anchor="start" font-weight="bold" font-style="normal" fill="#000" textLength="34.56" lengthAdjust="spacingAndGlyphs" stroke="#000" stroke-width="0.25">localization</text>
<rect x="573.50" y="288.09" width="29.84" height="5.30" fill="#0000ff"/>
<line x1="567.00" y1="290.74" x2="572.50" y2="290.74" stroke="#000" stroke-width="1.8"/>
<text x="418.51" y="293.13" font-size="6.5" text-anchor="start" font-weight="bold" font-style="normal" fill="#000" textLength="31.14" lengthAdjust="spacingAndGlyphs" stroke="#000" stroke-width="0.25">regulation</text>
<text x="451.29" y="293.13" font-size="6.5" text-anchor="start" font-weight="bold" font-style="normal" fill="#000" textLength="6.22" lengthAdjust="spacingAndGlyphs" stroke="#000" stroke-width="0.25">of</text>
<text x="459.15" y="293.13" font-size="6.5" text-anchor="start" font-weight="bold" font-style="normal" fill="#000" textLength="22.17" lengthAdjust="spacingAndGlyphs" stroke="#000" stroke-width="0.25">cellular</text>
<text x="482.97" y="293.13" font-size="6.5" text-anchor="start" font-weight="bold" font-style="normal" fill="#000" textLength="34.71" lengthAdjust="spacingAndGlyphs" stroke="#000" stroke-width="0.25">component</text>
<text x="519.32" y="293.13" font-size="6.5" text-anchor="start" font-weight="bold" font-style="normal" fill="#000" textLength="37.88" lengthAdjust="spacingAndGlyphs" stroke="#000" stroke-width="0.25">organization</text>
<rect x="573.50" y="295.41" width="10.24" height="5.30" fill="#000"/>
<line x1="567.00" y1="298.06" x2="572.50" y2="298.06" stroke="#000" stroke-width="1.8"/>
<text x="423.43" y="300.46" font-size="6.5" text-anchor="start" font-weight="bold" font-style="normal" fill="#000" textLength="31.14" lengthAdjust="spacingAndGlyphs" stroke="#000" stroke-width="0.25">regulation</text>
<text x="456.21" y="300.46" font-size="6.5" text-anchor="start" font-weight="bold" font-style="normal" fill="#000" textLength="6.22" lengthAdjust="spacingAndGlyphs" stroke="#000" stroke-width="0.25">of</text>
<text x="464.07" y="300.46" font-size="6.5" text-anchor="start" font-weight="bold" font-style="normal" fill="#000" textLength="22.17" lengthAdjust="spacingAndGlyphs" stroke="#000" stroke-width="0.25">cellular</text>
<text x="487.89" y="300.46" font-size="6.5" text-anchor="start" font-weight="bold" font-style="normal" fill="#000" textLength="34.71" lengthAdjust="spacingAndGlyphs" stroke="#000" stroke-width="0.25">component</text>
<text x="524.24" y="300.46" font-size="6.5" text-anchor="start" font-weight="bold" font-style="normal" fill="#000" textLength="32.96" lengthAdjust="spacingAndGlyphs" stroke="#000" stroke-width="0.25">movement</text>
<rect x="573.50" y="302.74" width="8.06" height="5.30" fill="#000"/>
<line x1="567.00" y1="305.39" x2="572.50" y2="305.39" stroke="#000" stroke-width="1.8"/>
<text x="475.14" y="307.79" font-size="6.5" text-anchor="start" font-weight="bold" font-style="normal" fill="#000" textLength="31.14" lengthAdjust="spacingAndGlyphs" stroke="#000" stroke-width="0.25">regulation</text>
<text x="507.92" y="307.79" font-size="6.5" text-anchor="start" font-weight="bold" font-style="normal" fill="#000" textLength="6.22" lengthAdjust="spacingAndGlyphs" stroke="#000" stroke-width="0.25">of</text>
<text x="515.78" y="307.79" font-size="6.5" text-anchor="start" font-weight="bold" font-style="normal" fill="#000" textLength="10.29" lengthAdjust="spacingAndGlyphs" stroke="#000" stroke-width="0.25">cell</text>
<text x="527.72" y="307.79" font-size="6.5" text-anchor="start" font-weight="bold" font-style="normal" fill="#000" textLength="29.48" lengthAdjust="spacingAndGlyphs" stroke="#000" stroke-width="0.25">migration</text>
<rect x="573.50" y="310.07" width="12.42" height="5.30" fill="#0000ff"/>
<line x1="567.00" y1="312.72" x2="572.50" y2="312.72" stroke="#000" stroke-width="1.8"/>
<text x="477.61" y="315.12" font-size="6.5" text-anchor="start" font-weight="bold" font-style="normal" fill="#000" textLength="31.14" lengthAdjust="spacingAndGlyphs" stroke="#000" stroke-width="0.25">regulation</text>
<text x="510.39" y="315.12" font-size="6.5" text-anchor="start" font-weight="bold" font-style="normal" fill="#000" textLength="6.22" lengthAdjust="spacingAndGlyphs" stroke="#000" stroke-width="0.25">of</text>
<text x="518.25" y="315.12" font-size="6.5" text-anchor="start" font-weight="bold" font-style="normal" fill="#000" textLength="38.95" lengthAdjust="spacingAndGlyphs" stroke="#000" stroke-width="0.25">angiogenesis</text>
<rect x="573.50" y="317.40" width="23.31" height="5.30" fill="#0000ff"/>
<line x1="567.00" y1="320.05" x2="572.50" y2="320.05" stroke="#000" stroke-width="1.8"/>
<text x="405.49" y="322.45" font-size="6.5" text-anchor="start" font-weight="bold" font-style="normal" fill="#000" textLength="31.14" lengthAdjust="spacingAndGlyphs" stroke="#000" stroke-width="0.25">regulation</text>
<text x="438.27" y="322.45" font-size="6.5" text-anchor="start" font-weight="bold" font-style="normal" fill="#000" textLength="6.22" lengthAdjust="spacingAndGlyphs" stroke="#000" stroke-width="0.25">of</text>
<text x="446.14" y="322.45" font-size="6.5" text-anchor="start" font-weight="bold" font-style="normal" fill="#000" textLength="33.68" lengthAdjust="spacingAndGlyphs" stroke="#000" stroke-width="0.25">anatomical</text>
<text x="481.47" y="322.45" font-size="6.5" text-anchor="start" font-weight="bold" font-style="normal" fill="#000" textLength="27.65" lengthAdjust="spacingAndGlyphs" stroke="#000" stroke-width="0.25">structure</text>
<text x="510.76" y="322.45" font-size="6.5" text-anchor="start" font-weight="bold" font-style="normal" fill="#000" textLength="46.44" lengthAdjust="spacingAndGlyphs" stroke="#000" stroke-width="0.25">morphogenesis</text>
<rect x="573.50" y="324.73" width="8.06" height="5.30" fill="#0000ff"/>
<line x1="567.00" y1="327.38" x2="572.50" y2="327.38" stroke="#000" stroke-width="1.8"/>
<text x="493.77" y="329.78" font-size="6.5" text-anchor="start" font-weight="bold" font-style="normal" fill="#000" textLength="22.30" lengthAdjust="spacingAndGlyphs" stroke="#000" stroke-width="0.25">protein</text>
<text x="517.71" y="329.78" font-size="6.5" text-anchor="start" font-weight="bold" font-style="normal" fill="#000" textLength="39.49" lengthAdjust="spacingAndGlyphs" stroke="#000" stroke-width="0.25">trimerization</text>
<rect x="573.50" y="332.06" width="5.88" height="5.30" fill="#0000ff"/>
<line x1="567.00" y1="334.71" x2="572.50" y2="334.71" stroke="#000" stroke-width="1.8"/>
<text x="473.51" y="337.11" font-size="6.5" text-anchor="start" font-weight="bold" font-style="normal" fill="#000" textLength="22.30" lengthAdjust="spacingAndGlyphs" stroke="#000" stroke-width="0.25">protein</text>
<text x="497.45" y="337.11" font-size="6.5" text-anchor="start" font-weight="bold" font-style="normal" fill="#000" textLength="59.75" lengthAdjust="spacingAndGlyphs" stroke="#000" stroke-width="0.25">heterotrimerization</text>
<rect x="573.50" y="339.39" width="16.77" height="5.30" fill="#0000ff"/>
<line x1="567.00" y1="342.04" x2="572.50" y2="342.04" stroke="#000" stroke-width="1.8"/>
<text x="458.58" y="344.44" font-size="6.5" text-anchor="start" font-weight="bold" font-style="normal" fill="#000" textLength="22.30" lengthAdjust="spacingAndGlyphs" stroke="#000" stroke-width="0.25">protein</text>
<text x="482.52" y="344.44" font-size="6.5" text-anchor="start" font-weight="bold" font-style="normal" fill="#000" textLength="25.58" lengthAdjust="spacingAndGlyphs" stroke="#000" stroke-width="0.25">complex</text>
<text x="509.75" y="344.44" font-size="6.5" text-anchor="start" font-weight="bold" font-style="normal" fill="#000" textLength="47.45" lengthAdjust="spacingAndGlyphs" stroke="#000" stroke-width="0.25">oligomerization</text>
<rect x="573.50" y="346.72" width="10.24" height="5.30" fill="#000"/>
<line x1="567.00" y1="349.37" x2="572.50" y2="349.37" stroke="#000" stroke-width="1.8"/>
<text x="486.57" y="351.77" font-size="6.5" text-anchor="start" font-weight="bold" font-style="normal" fill="#000" textLength="39.45" lengthAdjust="spacingAndGlyphs" stroke="#000" stroke-width="0.25">programmed</text>
<text x="527.67" y="351.77" font-size="6.5" text-anchor="start" font-weight="bold" font-style="normal" fill="#000" textLength="10.29" lengthAdjust="spacingAndGlyphs" stroke="#000" stroke-width="0.25">cell</text>
<text x="539.60" y="351.77" font-size="6.5" text-anchor="start" font-weight="bold" font-style="normal" fill="#000" textLength="17.60" lengthAdjust="spacingAndGlyphs" stroke="#000" stroke-width="0.25">death</text>
<rect x="573.50" y="354.05" width="10.24" height="5.30" fill="#0000ff"/>
<line x1="567.00" y1="356.70" x2="572.50" y2="356.70" stroke="#000" stroke-width="1.8"/>
<text x="389.57" y="359.10" font-size="6.5" text-anchor="start" font-weight="bold" font-style="normal" fill="#000" textLength="23.94" lengthAdjust="spacingAndGlyphs" stroke="#000" stroke-width="0.25">positive</text>
<text x="415.16" y="359.10" font-size="6.5" text-anchor="start" font-weight="bold" font-style="normal" fill="#000" textLength="31.14" lengthAdjust="spacingAndGlyphs" stroke="#000" stroke-width="0.25">regulation</text>
<text x="447.94" y="359.10" font-size="6.5" text-anchor="start" font-weight="bold" font-style="normal" fill="#000" textLength="6.22" lengthAdjust="spacingAndGlyphs" stroke="#000" stroke-width="0.25">of</text>
<text x="455.80" y="359.10" font-size="6.5" text-anchor="start" font-weight="bold" font-style="normal" fill="#000" textLength="22.30" lengthAdjust="spacingAndGlyphs" stroke="#000" stroke-width="0.25">protein</text>
<text x="479.75" y="359.10" font-size="6.5" text-anchor="start" font-weight="bold" font-style="normal" fill="#000" textLength="34.56" lengthAdjust="spacingAndGlyphs" stroke="#000" stroke-width="0.25">localization</text>
<text x="515.95" y="359.10" font-size="6.5" text-anchor="start" font-weight="bold" font-style="normal" fill="#000" textLength="6.44" lengthAdjust="spacingAndGlyphs" stroke="#000" stroke-width="0.25">to</text>
<text x="524.04" y="359.10" font-size="6.5" text-anchor="start" font-weight="bold" font-style="normal" fill="#000" textLength="33.16" lengthAdjust="spacingAndGlyphs" stroke="#000" stroke-width="0.25">membrane</text>
<rect x="573.50" y="361.38" width="5.88" height="5.30" fill="#0000ff"/>
<line x1="567.00" y1="364.02" x2="572.50" y2="364.02" stroke="#000" stroke-width="1.8"/>
<text x="372.48" y="366.42" font-size="6.5" text-anchor="start" font-weight="bold" font-style="normal" fill="#000" textLength="23.94" lengthAdjust="spacingAndGlyphs" stroke="#000" stroke-width="0.25">positive</text>
<text x="398.07" y="366.42" font-size="6.5" text-anchor="start" font-weight="bold" font-style="normal" fill="#000" textLength="31.14" lengthAdjust="spacingAndGlyphs" stroke="#000" stroke-width="0.25">regulation</text>
<text x="430.86" y="366.42" font-size="6.5" text-anchor="start" font-weight="bold" font-style="normal" fill="#000" textLength="6.22" lengthAdjust="spacingAndGlyphs" stroke="#000" stroke-width="0.25">of</text>
<text x="438.72" y="366.42" font-size="6.5" text-anchor="start" font-weight="bold" font-style="normal" fill="#000" textLength="22.30" lengthAdjust="spacingAndGlyphs" stroke="#000" stroke-width="0.25">protein</text>
<text x="462.66" y="366.42" font-size="6.5" text-anchor="start" font-weight="bold" font-style="normal" fill="#000" textLength="26.99" lengthAdjust="spacingAndGlyphs" stroke="#000" stroke-width="0.25">insertion</text>
<text x="491.30" y="366.42" font-size="6.5" text-anchor="start" font-weight="bold" font-style="normal" fill="#000" textLength="12.14" lengthAdjust="spacingAndGlyphs" stroke="#000" stroke-width="0.25">into</text>
<text x="505.09" y="366.42" font-size="6.5" text-anchor="start" font-weight="bold" font-style="normal" fill="#000" textLength="42.60" lengthAdjust="spacingAndGlyphs" stroke="#000" stroke-width="0.25">mitochondrial</text>
<text x="549.34" y="366.42" font-size="6.5" text-anchor="start" font-weight="bold" font-style="normal" fill="#000" textLength="7.86" lengthAdjust="spacingAndGlyphs" stroke="#000" stroke-width="0.25">m.</text>
<rect x="573.50" y="368.70" width="14.60" height="5.30" fill="#0000ff"/>
<line x1="567.00" y1="371.35" x2="572.50" y2="371.35" stroke="#000" stroke-width="1.8"/>
<text x="408.65" y="373.75" font-size="6.5" text-anchor="start" font-weight="bold" font-style="normal" fill="#000" textLength="23.94" lengthAdjust="spacingAndGlyphs" stroke="#000" stroke-width="0.25">positive</text>
<text x="434.24" y="373.75" font-size="6.5" text-anchor="start" font-weight="bold" font-style="normal" fill="#000" textLength="31.14" lengthAdjust="spacingAndGlyphs" stroke="#000" stroke-width="0.25">regulation</text>
<text x="467.02" y="373.75" font-size="6.5" text-anchor="start" font-weight="bold" font-style="normal" fill="#000" textLength="6.22" lengthAdjust="spacingAndGlyphs" stroke="#000" stroke-width="0.25">of</text>
<text x="474.89" y="373.75" font-size="6.5" text-anchor="start" font-weight="bold" font-style="normal" fill="#000" textLength="22.17" lengthAdjust="spacingAndGlyphs" stroke="#000" stroke-width="0.25">cellular</text>
<text x="498.70" y="373.75" font-size="6.5" text-anchor="start" font-weight="bold" font-style="normal" fill="#000" textLength="22.30" lengthAdjust="spacingAndGlyphs" stroke="#000" stroke-width="0.25">protein</text>
<text x="522.64" y="373.75" font-size="6.5" text-anchor="start" font-weight="bold" font-style="normal" fill="#000" textLength="34.56" lengthAdjust="spacingAndGlyphs" stroke="#000" stroke-width="0.25">localization</text>
<rect x="573.50" y="376.03" width="21.13" height="5.30" fill="#0000ff"/>
<line x1="567.00" y1="378.68" x2="572.50" y2="378.68" stroke="#000" stroke-width="1.8"/>
<text x="392.92" y="381.08" font-size="6.5" text-anchor="start" font-weight="bold" font-style="normal" fill="#000" textLength="23.94" lengthAdjust="spacingAndGlyphs" stroke="#000" stroke-width="0.25">positive</text>
<text x="418.51" y="381.08" font-size="6.5" text-anchor="start" font-weight="bold" font-style="normal" fill="#000" textLength="31.14" lengthAdjust="spacingAndGlyphs" stroke="#000" stroke-width="0.25">regulation</text>
<text x="451.29" y="381.08" font-size="6.5" text-anchor="start" font-weight="bold" font-style="normal" fill="#000" textLength="6.22" lengthAdjust="spacingAndGlyphs" stroke="#000" stroke-width="0.25">of</text>
<text x="459.15" y="381.08" font-size="6.5" text-anchor="start" font-weight="bold" font-style="normal" fill="#000" textLength="22.17" lengthAdjust="spacingAndGlyphs" stroke="#000" stroke-width="0.25">cellular</text>
<text x="482.97" y="381.08" font-size="6.5" text-anchor="start" font-weight="bold" font-style="normal" fill="#000" textLength="34.71" lengthAdjust="spacingAndGlyphs" stroke="#000" stroke-width="0.25">component</text>
<text x="519.32" y="381.08" font-size="6.5" text-anchor="start" font-weight="bold" font-style="normal" fill="#000" textLength="37.88" lengthAdjust="spacingAndGlyphs" stroke="#000" stroke-width="0.25">organization</text>
<rect x="573.50" y="383.36" width="14.60" height="5.30" fill="#000"/>
<line x1="567.00" y1="386.01" x2="572.50" y2="386.01" stroke="#000" stroke-width="1.8"/>
<text x="449.47" y="388.41" font-size="6.5" text-anchor="start" font-weight="bold" font-style="normal" fill="#000" textLength="22.29" lengthAdjust="spacingAndGlyphs" stroke="#000" stroke-width="0.25">organic</text>
<text x="473.41" y="388.41" font-size="6.5" text-anchor="start" font-weight="bold" font-style="normal" fill="#000" textLength="30.36" lengthAdjust="spacingAndGlyphs" stroke="#000" stroke-width="0.25">substance</text>
<text x="505.42" y="388.41" font-size="6.5" text-anchor="start" font-weight="bold" font-style="normal" fill="#000" textLength="27.21" lengthAdjust="spacingAndGlyphs" stroke="#000" stroke-width="0.25">catabolic</text>
<text x="534.28" y="388.41" font-size="6.5" text-anchor="start" font-weight="bold" font-style="normal" fill="#000" textLength="22.92" lengthAdjust="spacingAndGlyphs" stroke="#000" stroke-width="0.25">process</text>
<rect x="573.50" y="390.69" width="8.06" height="5.30" fill="#000"/>
<line x1="567.00" y1="393.34" x2="572.50" y2="393.34" stroke="#000" stroke-width="1.8"/>
<text x="474.91" y="395.74" font-size="6.5" text-anchor="start" font-weight="bold" font-style="normal" fill="#000" textLength="21.23" lengthAdjust="spacingAndGlyphs" stroke="#000" stroke-width="0.25">muscle</text>
<text x="497.79" y="395.74" font-size="6.5" text-anchor="start" font-weight="bold" font-style="normal" fill="#000" textLength="17.46" lengthAdjust="spacingAndGlyphs" stroke="#000" stroke-width="0.25">organ</text>
<text x="516.89" y="395.74" font-size="6.5" text-anchor="start" font-weight="bold" font-style="normal" fill="#000" textLength="40.31" lengthAdjust="spacingAndGlyphs" stroke="#000" stroke-width="0.25">development</text>
<rect x="573.50" y="398.02" width="21.13" height="5.30" fill="#000"/>
<line x1="567.00" y1="400.67" x2="572.50" y2="400.67" stroke="#000" stroke-width="1.8"/>
<text x="486.39" y="403.07" font-size="6.5" text-anchor="start" font-weight="bold" font-style="normal" fill="#000" textLength="46.24" lengthAdjust="spacingAndGlyphs" stroke="#000" stroke-width="0.25">multi-organism</text>
<text x="534.28" y="403.07" font-size="6.5" text-anchor="start" font-weight="bold" font-style="normal" fill="#000" textLength="22.92" lengthAdjust="spacingAndGlyphs" stroke="#000" stroke-width="0.25">process</text>
<rect x="573.50" y="405.35" width="27.66" height="5.30" fill="#000"/>
<line x1="567.00" y1="408.00" x2="572.50" y2="408.00" stroke="#000" stroke-width="1.8"/>
<text x="459.42" y="410.40" font-size="6.5" text-anchor="start" font-weight="bold" font-style="normal" fill="#000" textLength="38.10" lengthAdjust="spacingAndGlyphs" stroke="#000" stroke-width="0.25">multicellular</text>
<text x="499.17" y="410.40" font-size="6.5" text-anchor="start" font-weight="bold" font-style="normal" fill="#000" textLength="33.46" lengthAdjust="spacingAndGlyphs" stroke="#000" stroke-width="0.25">organismal</text>
<text x="534.28" y="410.40" font-size="6.5" text-anchor="start" font-weight="bold" font-style="normal" fill="#000" textLength="22.92" lengthAdjust="spacingAndGlyphs" stroke="#000" stroke-width="0.25">process</text>
<rect x="573.50" y="412.68" width="23.31" height="5.30" fill="#000"/>
<line x1="567.00" y1="415.33" x2="572.50" y2="415.33" stroke="#000" stroke-width="1.8"/>
<text x="447.42" y="417.73" font-size="6.5" text-anchor="start" font-weight="bold" font-style="normal" fill="#000" textLength="38.10" lengthAdjust="spacingAndGlyphs" stroke="#000" stroke-width="0.25">multicellular</text>
<text x="487.17" y="417.73" font-size="6.5" text-anchor="start" font-weight="bold" font-style="normal" fill="#000" textLength="28.07" lengthAdjust="spacingAndGlyphs" stroke="#000" stroke-width="0.25">organism</text>
<text x="516.89" y="417.73" font-size="6.5" text-anchor="start" font-weight="bold" font-style="normal" fill="#000" textLength="40.31" lengthAdjust="spacingAndGlyphs" stroke="#000" stroke-width="0.25">development</text>
<rect x="573.50" y="420.01" width="29.84" height="5.30" fill="#0000ff"/>
<line x1="567.00" y1="422.66" x2="572.50" y2="422.66" stroke="#000" stroke-width="1.8"/>
<text x="425.41" y="425.06" font-size="6.5" text-anchor="start" font-weight="bold" font-style="normal" fill="#000" textLength="32.96" lengthAdjust="spacingAndGlyphs" stroke="#000" stroke-width="0.25">movement</text>
<text x="460.01" y="425.06" font-size="6.5" text-anchor="start" font-weight="bold" font-style="normal" fill="#000" textLength="6.22" lengthAdjust="spacingAndGlyphs" stroke="#000" stroke-width="0.25">of</text>
<text x="467.87" y="425.06" font-size="6.5" text-anchor="start" font-weight="bold" font-style="normal" fill="#000" textLength="10.29" lengthAdjust="spacingAndGlyphs" stroke="#000" stroke-width="0.25">cell</text>
<text x="479.81" y="425.06" font-size="6.5" text-anchor="start" font-weight="bold" font-style="normal" fill="#000" textLength="6.50" lengthAdjust="spacingAndGlyphs" stroke="#000" stroke-width="0.25">or</text>
<text x="487.95" y="425.06" font-size="6.5" text-anchor="start" font-weight="bold" font-style="normal" fill="#000" textLength="32.89" lengthAdjust="spacingAndGlyphs" stroke="#000" stroke-width="0.25">subcellular</text>
<text x="522.49" y="425.06" font-size="6.5" text-anchor="start" font-weight="bold" font-style="normal" fill="#000" textLength="34.71" lengthAdjust="spacingAndGlyphs" stroke="#000" stroke-width="0.25">component</text>
<rect x="573.50" y="427.34" width="29.84" height="5.30" fill="#0000ff"/>
<line x1="567.00" y1="429.99" x2="572.50" y2="429.99" stroke="#000" stroke-width="1.8"/>
<text x="522.55" y="432.39" font-size="6.5" text-anchor="start" font-weight="bold" font-style="normal" fill="#000" textLength="34.65" lengthAdjust="spacingAndGlyphs" stroke="#000" stroke-width="0.25">locomotion</text>
<rect x="622.64" y="434.67" width="24.26" height="5.30" fill="#000"/>
<rect x="573.50" y="434.67" width="49.44" height="5.30" fill="#0000ff"/>
<line x1="567.00" y1="437.31" x2="572.50" y2="437.31" stroke="#000" stroke-width="1.8"/>
<text x="522.64" y="439.71" font-size="6.5" text-anchor="start" font-weight="bold" font-style="normal" fill="#000" textLength="34.56" lengthAdjust="spacingAndGlyphs" stroke="#000" stroke-width="0.25">localization</text>
<rect x="573.50" y="441.99" width="14.60" height="5.30" fill="#0000ff"/>
<line x1="567.00" y1="444.64" x2="572.50" y2="444.64" stroke="#000" stroke-width="1.8"/>
<text x="496.62" y="447.04" font-size="6.5" text-anchor="start" font-weight="bold" font-style="normal" fill="#000" textLength="29.45" lengthAdjust="spacingAndGlyphs" stroke="#000" stroke-width="0.25">leukocyte</text>
<text x="527.72" y="447.04" font-size="6.5" text-anchor="start" font-weight="bold" font-style="normal" fill="#000" textLength="29.48" lengthAdjust="spacingAndGlyphs" stroke="#000" stroke-width="0.25">migration</text>
<rect x="573.50" y="449.32" width="10.24" height="5.30" fill="#0000ff"/>
<line x1="567.00" y1="451.97" x2="572.50" y2="451.97" stroke="#000" stroke-width="1.8"/>
<text x="474.06" y="454.37" font-size="6.5" text-anchor="start" font-weight="bold" font-style="normal" fill="#000" textLength="29.45" lengthAdjust="spacingAndGlyphs" stroke="#000" stroke-width="0.25">leukocyte</text>
<text x="505.16" y="454.37" font-size="6.5" text-anchor="start" font-weight="bold" font-style="normal" fill="#000" textLength="22.80" lengthAdjust="spacingAndGlyphs" stroke="#000" stroke-width="0.25">cell-cell</text>
<text x="529.60" y="454.37" font-size="6.5" text-anchor="start" font-weight="bold" font-style="normal" fill="#000" textLength="27.60" lengthAdjust="spacingAndGlyphs" stroke="#000" stroke-width="0.25">adhesion</text>
<rect x="573.50" y="456.65" width="10.24" height="5.30" fill="#000"/>
<line x1="567.00" y1="459.30" x2="572.50" y2="459.30" stroke="#000" stroke-width="1.8"/>
<text x="424.93" y="461.70" font-size="6.5" text-anchor="start" font-weight="bold" font-style="normal" fill="#000" textLength="36.35" lengthAdjust="spacingAndGlyphs" stroke="#000" stroke-width="0.25">interspecies</text>
<text x="462.92" y="461.70" font-size="6.5" text-anchor="start" font-weight="bold" font-style="normal" fill="#000" textLength="33.26" lengthAdjust="spacingAndGlyphs" stroke="#000" stroke-width="0.25">interaction</text>
<text x="497.82" y="461.70" font-size="6.5" text-anchor="start" font-weight="bold" font-style="normal" fill="#000" textLength="26.75" lengthAdjust="spacingAndGlyphs" stroke="#000" stroke-width="0.25">between</text>
<text x="526.22" y="461.70" font-size="6.5" text-anchor="start" font-weight="bold" font-style="normal" fill="#000" textLength="30.98" lengthAdjust="spacingAndGlyphs" stroke="#000" stroke-width="0.25">organisms</text>
<rect x="573.50" y="463.98" width="10.24" height="5.30" fill="#000"/>
<line x1="567.00" y1="466.63" x2="572.50" y2="466.63" stroke="#000" stroke-width="1.8"/>
<text x="481.95" y="469.03" font-size="6.5" text-anchor="start" font-weight="bold" font-style="normal" fill="#000" textLength="19.39" lengthAdjust="spacingAndGlyphs" stroke="#000" stroke-width="0.25">innate</text>
<text x="502.99" y="469.03" font-size="6.5" text-anchor="start" font-weight="bold" font-style="normal" fill="#000" textLength="25.11" lengthAdjust="spacingAndGlyphs" stroke="#000" stroke-width="0.25">immune</text>
<text x="529.75" y="469.03" font-size="6.5" text-anchor="start" font-weight="bold" font-style="normal" fill="#000" textLength="27.45" lengthAdjust="spacingAndGlyphs" stroke="#000" stroke-width="0.25">response</text>
<rect x="573.50" y="471.31" width="25.49" height="5.30" fill="#000"/>
<line x1="567.00" y1="473.96" x2="572.50" y2="473.96" stroke="#000" stroke-width="1.8"/>
<text x="484.51" y="476.36" font-size="6.5" text-anchor="start" font-weight="bold" font-style="normal" fill="#000" textLength="25.11" lengthAdjust="spacingAndGlyphs" stroke="#000" stroke-width="0.25">immune</text>
<text x="511.26" y="476.36" font-size="6.5" text-anchor="start" font-weight="bold" font-style="normal" fill="#000" textLength="21.37" lengthAdjust="spacingAndGlyphs" stroke="#000" stroke-width="0.25">system</text>
<text x="534.28" y="476.36" font-size="6.5" text-anchor="start" font-weight="bold" font-style="normal" fill="#000" textLength="22.92" lengthAdjust="spacingAndGlyphs" stroke="#000" stroke-width="0.25">process</text>
<rect x="573.50" y="478.64" width="23.31" height="5.30" fill="#000"/>
<line x1="567.00" y1="481.29" x2="572.50" y2="481.29" stroke="#000" stroke-width="1.8"/>
<text x="502.99" y="483.69" font-size="6.5" text-anchor="start" font-weight="bold" font-style="normal" fill="#000" textLength="25.11" lengthAdjust="spacingAndGlyphs" stroke="#000" stroke-width="0.25">immune</text>
<text x="529.75" y="483.69" font-size="6.5" text-anchor="start" font-weight="bold" font-style="normal" fill="#000" textLength="27.45" lengthAdjust="spacingAndGlyphs" stroke="#000" stroke-width="0.25">response</text>
<rect x="573.50" y="485.97" width="8.06" height="5.30" fill="#0000ff"/>
<line x1="567.00" y1="488.62" x2="572.50" y2="488.62" stroke="#000" stroke-width="1.8"/>
<text x="446.84" y="491.02" font-size="6.5" text-anchor="start" font-weight="bold" font-style="normal" fill="#000" textLength="56.93" lengthAdjust="spacingAndGlyphs" stroke="#000" stroke-width="0.25">glycosaminoglycan</text>
<text x="505.42" y="491.02" font-size="6.5" text-anchor="start" font-weight="bold" font-style="normal" fill="#000" textLength="27.21" lengthAdjust="spacingAndGlyphs" stroke="#000" stroke-width="0.25">catabolic</text>
<text x="534.28" y="491.02" font-size="6.5" text-anchor="start" font-weight="bold" font-style="normal" fill="#000" textLength="22.92" lengthAdjust="spacingAndGlyphs" stroke="#000" stroke-width="0.25">process</text>
<rect x="598.69" y="493.30" width="9.01" height="5.30" fill="#000"/>
<rect x="573.50" y="493.30" width="25.49" height="5.30" fill="#0000ff"/>
<line x1="567.00" y1="495.95" x2="572.50" y2="495.95" stroke="#000" stroke-width="1.8"/>
<text x="458.40" y="498.35" font-size="6.5" text-anchor="start" font-weight="bold" font-style="normal" fill="#000" textLength="37.88" lengthAdjust="spacingAndGlyphs" stroke="#000" stroke-width="0.25">extracellular</text>
<text x="497.92" y="498.35" font-size="6.5" text-anchor="start" font-weight="bold" font-style="normal" fill="#000" textLength="19.76" lengthAdjust="spacingAndGlyphs" stroke="#000" stroke-width="0.25">matrix</text>
<text x="519.32" y="498.35" font-size="6.5" text-anchor="start" font-weight="bold" font-style="normal" fill="#000" textLength="37.88" lengthAdjust="spacingAndGlyphs" stroke="#000" stroke-width="0.25">organization</text>
<rect x="573.50" y="500.63" width="12.42" height="5.30" fill="#000"/>
<line x1="567.00" y1="503.28" x2="572.50" y2="503.28" stroke="#000" stroke-width="1.8"/>
<text x="471.02" y="505.68" font-size="6.5" text-anchor="start" font-weight="bold" font-style="normal" fill="#000" textLength="28.43" lengthAdjust="spacingAndGlyphs" stroke="#000" stroke-width="0.25">epithelial</text>
<text x="501.09" y="505.68" font-size="6.5" text-anchor="start" font-weight="bold" font-style="normal" fill="#000" textLength="10.29" lengthAdjust="spacingAndGlyphs" stroke="#000" stroke-width="0.25">cell</text>
<text x="513.02" y="505.68" font-size="6.5" text-anchor="start" font-weight="bold" font-style="normal" fill="#000" textLength="44.18" lengthAdjust="spacingAndGlyphs" stroke="#000" stroke-width="0.25">differentiation</text>
<rect x="573.50" y="507.96" width="10.24" height="5.30" fill="#000"/>
<line x1="567.00" y1="510.61" x2="572.50" y2="510.61" stroke="#000" stroke-width="1.8"/>
<text x="485.11" y="513.00" font-size="6.5" text-anchor="start" font-weight="bold" font-style="normal" fill="#000" textLength="30.13" lengthAdjust="spacingAndGlyphs" stroke="#000" stroke-width="0.25">epidermis</text>
<text x="516.89" y="513.00" font-size="6.5" text-anchor="start" font-weight="bold" font-style="normal" fill="#000" textLength="40.31" lengthAdjust="spacingAndGlyphs" stroke="#000" stroke-width="0.25">development</text>
<rect x="573.50" y="515.28" width="10.24" height="5.30" fill="#000"/>
<line x1="567.00" y1="517.93" x2="572.50" y2="517.93" stroke="#000" stroke-width="1.8"/>
<text x="486.98" y="520.33" font-size="6.5" text-anchor="start" font-weight="bold" font-style="normal" fill="#000" textLength="13.85" lengthAdjust="spacingAndGlyphs" stroke="#000" stroke-width="0.25">drug</text>
<text x="502.48" y="520.33" font-size="6.5" text-anchor="start" font-weight="bold" font-style="normal" fill="#000" textLength="30.15" lengthAdjust="spacingAndGlyphs" stroke="#000" stroke-width="0.25">metabolic</text>
<text x="534.28" y="520.33" font-size="6.5" text-anchor="start" font-weight="bold" font-style="normal" fill="#000" textLength="22.92" lengthAdjust="spacingAndGlyphs" stroke="#000" stroke-width="0.25">process</text>
<rect x="573.50" y="522.61" width="14.60" height="5.30" fill="#000"/>
<line x1="567.00" y1="525.26" x2="572.50" y2="525.26" stroke="#000" stroke-width="1.8"/>
<text x="448.04" y="527.66" font-size="6.5" text-anchor="start" font-weight="bold" font-style="normal" fill="#000" textLength="24.01" lengthAdjust="spacingAndGlyphs" stroke="#000" stroke-width="0.25">defense</text>
<text x="473.70" y="527.66" font-size="6.5" text-anchor="start" font-weight="bold" font-style="normal" fill="#000" textLength="27.45" lengthAdjust="spacingAndGlyphs" stroke="#000" stroke-width="0.25">response</text>
<text x="502.80" y="527.66" font-size="6.5" text-anchor="start" font-weight="bold" font-style="normal" fill="#000" textLength="6.44" lengthAdjust="spacingAndGlyphs" stroke="#000" stroke-width="0.25">to</text>
<text x="510.88" y="527.66" font-size="6.5" text-anchor="start" font-weight="bold" font-style="normal" fill="#000" textLength="16.60" lengthAdjust="spacingAndGlyphs" stroke="#000" stroke-width="0.25">other</text>
<text x="529.13" y="527.66" font-size="6.5" text-anchor="start" font-weight="bold" font-style="normal" fill="#000" textLength="28.07" lengthAdjust="spacingAndGlyphs" stroke="#000" stroke-width="0.25">organism</text>
<rect x="573.50" y="529.94" width="12.42" height="5.30" fill="#000"/>
<line x1="567.00" y1="532.59" x2="572.50" y2="532.59" stroke="#000" stroke-width="1.8"/>
<text x="478.87" y="534.99" font-size="6.5" text-anchor="start" font-weight="bold" font-style="normal" fill="#000" textLength="38.80" lengthAdjust="spacingAndGlyphs" stroke="#000" stroke-width="0.25">cytoskeleton</text>
<text x="519.32" y="534.99" font-size="6.5" text-anchor="start" font-weight="bold" font-style="normal" fill="#000" textLength="37.88" lengthAdjust="spacingAndGlyphs" stroke="#000" stroke-width="0.25">organization</text>
<rect x="573.50" y="537.27" width="18.95" height="5.30" fill="#0000ff"/>
<line x1="567.00" y1="539.92" x2="572.50" y2="539.92" stroke="#000" stroke-width="1.8"/>
<text x="443.91" y="542.32" font-size="6.5" text-anchor="start" font-weight="bold" font-style="normal" fill="#000" textLength="57.00" lengthAdjust="spacingAndGlyphs" stroke="#000" stroke-width="0.25">cytokine-mediated</text>
<text x="502.55" y="542.32" font-size="6.5" text-anchor="start" font-weight="bold" font-style="normal" fill="#000" textLength="26.59" lengthAdjust="spacingAndGlyphs" stroke="#000" stroke-width="0.25">signaling</text>
<text x="530.79" y="542.32" font-size="6.5" text-anchor="start" font-weight="bold" font-style="normal" fill="#000" textLength="26.41" lengthAdjust="spacingAndGlyphs" stroke="#000" stroke-width="0.25">pathway</text>
<rect x="573.50" y="544.60" width="8.06" height="5.30" fill="#000"/>
<line x1="567.00" y1="547.25" x2="572.50" y2="547.25" stroke="#000" stroke-width="1.8"/>
<text x="475.90" y="549.65" font-size="6.5" text-anchor="start" font-weight="bold" font-style="normal" fill="#000" textLength="24.93" lengthAdjust="spacingAndGlyphs" stroke="#000" stroke-width="0.25">cofactor</text>
<text x="502.48" y="549.65" font-size="6.5" text-anchor="start" font-weight="bold" font-style="normal" fill="#000" textLength="30.15" lengthAdjust="spacingAndGlyphs" stroke="#000" stroke-width="0.25">metabolic</text>
<text x="534.28" y="549.65" font-size="6.5" text-anchor="start" font-weight="bold" font-style="normal" fill="#000" textLength="22.92" lengthAdjust="spacingAndGlyphs" stroke="#000" stroke-width="0.25">process</text>
<rect x="573.50" y="551.93" width="5.88" height="5.30" fill="#000"/>
<line x1="567.00" y1="554.58" x2="572.50" y2="554.58" stroke="#000" stroke-width="1.8"/>
<text x="470.38" y="556.98" font-size="6.5" text-anchor="start" font-weight="bold" font-style="normal" fill="#000" textLength="30.45" lengthAdjust="spacingAndGlyphs" stroke="#000" stroke-width="0.25">coenzyme</text>
<text x="502.48" y="556.98" font-size="6.5" text-anchor="start" font-weight="bold" font-style="normal" fill="#000" textLength="30.15" lengthAdjust="spacingAndGlyphs" stroke="#000" stroke-width="0.25">metabolic</text>
<text x="534.28" y="556.98" font-size="6.5" text-anchor="start" font-weight="bold" font-style="normal" fill="#000" textLength="22.92" lengthAdjust="spacingAndGlyphs" stroke="#000" stroke-width="0.25">process</text>
<rect x="573.50" y="559.26" width="18.95" height="5.30" fill="#0000ff"/>
<line x1="567.00" y1="561.91" x2="572.50" y2="561.91" stroke="#000" stroke-width="1.8"/>
<text x="460.00" y="564.31" font-size="6.5" text-anchor="start" font-weight="bold" font-style="normal" fill="#000" textLength="32.24" lengthAdjust="spacingAndGlyphs" stroke="#000" stroke-width="0.25">circulatory</text>
<text x="493.88" y="564.31" font-size="6.5" text-anchor="start" font-weight="bold" font-style="normal" fill="#000" textLength="21.37" lengthAdjust="spacingAndGlyphs" stroke="#000" stroke-width="0.25">system</text>
<text x="516.89" y="564.31" font-size="6.5" text-anchor="start" font-weight="bold" font-style="normal" fill="#000" textLength="40.31" lengthAdjust="spacingAndGlyphs" stroke="#000" stroke-width="0.25">development</text>
<rect x="573.50" y="566.59" width="29.84" height="5.30" fill="#0000ff"/>
<line x1="567.00" y1="569.24" x2="572.50" y2="569.24" stroke="#000" stroke-width="1.8"/>
<text x="441.90" y="571.64" font-size="6.5" text-anchor="start" font-weight="bold" font-style="normal" fill="#000" textLength="22.17" lengthAdjust="spacingAndGlyphs" stroke="#000" stroke-width="0.25">cellular</text>
<text x="465.71" y="571.64" font-size="6.5" text-anchor="start" font-weight="bold" font-style="normal" fill="#000" textLength="27.45" lengthAdjust="spacingAndGlyphs" stroke="#000" stroke-width="0.25">response</text>
<text x="494.81" y="571.64" font-size="6.5" text-anchor="start" font-weight="bold" font-style="normal" fill="#000" textLength="6.44" lengthAdjust="spacingAndGlyphs" stroke="#000" stroke-width="0.25">to</text>
<text x="502.90" y="571.64" font-size="6.5" text-anchor="start" font-weight="bold" font-style="normal" fill="#000" textLength="22.29" lengthAdjust="spacingAndGlyphs" stroke="#000" stroke-width="0.25">organic</text>
<text x="526.84" y="571.64" font-size="6.5" text-anchor="start" font-weight="bold" font-style="normal" fill="#000" textLength="30.36" lengthAdjust="spacingAndGlyphs" stroke="#000" stroke-width="0.25">substance</text>
<rect x="573.50" y="573.92" width="23.31" height="5.30" fill="#0000ff"/>
<line x1="567.00" y1="576.57" x2="572.50" y2="576.57" stroke="#000" stroke-width="1.8"/>
<text x="443.11" y="578.97" font-size="6.5" text-anchor="start" font-weight="bold" font-style="normal" fill="#000" textLength="22.17" lengthAdjust="spacingAndGlyphs" stroke="#000" stroke-width="0.25">cellular</text>
<text x="466.92" y="578.97" font-size="6.5" text-anchor="start" font-weight="bold" font-style="normal" fill="#000" textLength="27.45" lengthAdjust="spacingAndGlyphs" stroke="#000" stroke-width="0.25">response</text>
<text x="496.02" y="578.97" font-size="6.5" text-anchor="start" font-weight="bold" font-style="normal" fill="#000" textLength="6.44" lengthAdjust="spacingAndGlyphs" stroke="#000" stroke-width="0.25">to</text>
<text x="504.11" y="578.97" font-size="6.5" text-anchor="start" font-weight="bold" font-style="normal" fill="#000" textLength="25.79" lengthAdjust="spacingAndGlyphs" stroke="#000" stroke-width="0.25">cytokine</text>
<text x="531.55" y="578.97" font-size="6.5" text-anchor="start" font-weight="bold" font-style="normal" fill="#000" textLength="25.65" lengthAdjust="spacingAndGlyphs" stroke="#000" stroke-width="0.25">stimulus</text>
<rect x="629.18" y="581.25" width="30.79" height="5.30" fill="#000"/>
<rect x="573.50" y="581.25" width="55.98" height="5.30" fill="#0000ff"/>
<line x1="567.00" y1="583.89" x2="572.50" y2="583.89" stroke="#000" stroke-width="1.8"/>
<text x="459.15" y="586.29" font-size="6.5" text-anchor="start" font-weight="bold" font-style="normal" fill="#000" textLength="22.17" lengthAdjust="spacingAndGlyphs" stroke="#000" stroke-width="0.25">cellular</text>
<text x="482.97" y="586.29" font-size="6.5" text-anchor="start" font-weight="bold" font-style="normal" fill="#000" textLength="34.71" lengthAdjust="spacingAndGlyphs" stroke="#000" stroke-width="0.25">component</text>
<text x="519.32" y="586.29" font-size="6.5" text-anchor="start" font-weight="bold" font-style="normal" fill="#000" textLength="37.88" lengthAdjust="spacingAndGlyphs" stroke="#000" stroke-width="0.25">organization</text>
<rect x="573.50" y="588.57" width="32.02" height="5.30" fill="#0000ff"/>
<line x1="567.00" y1="591.22" x2="572.50" y2="591.22" stroke="#000" stroke-width="1.8"/>
<text x="468.89" y="593.62" font-size="6.5" text-anchor="start" font-weight="bold" font-style="normal" fill="#000" textLength="22.17" lengthAdjust="spacingAndGlyphs" stroke="#000" stroke-width="0.25">cellular</text>
<text x="492.71" y="593.62" font-size="6.5" text-anchor="start" font-weight="bold" font-style="normal" fill="#000" textLength="34.71" lengthAdjust="spacingAndGlyphs" stroke="#000" stroke-width="0.25">component</text>
<text x="529.06" y="593.62" font-size="6.5" text-anchor="start" font-weight="bold" font-style="normal" fill="#000" textLength="28.14" lengthAdjust="spacingAndGlyphs" stroke="#000" stroke-width="0.25">assembly</text>
<rect x="573.50" y="595.90" width="16.77" height="5.30" fill="#000"/>
<line x1="567.00" y1="598.55" x2="572.50" y2="598.55" stroke="#000" stroke-width="1.8"/>
<text x="481.60" y="600.95" font-size="6.5" text-anchor="start" font-weight="bold" font-style="normal" fill="#000" textLength="22.17" lengthAdjust="spacingAndGlyphs" stroke="#000" stroke-width="0.25">cellular</text>
<text x="505.42" y="600.95" font-size="6.5" text-anchor="start" font-weight="bold" font-style="normal" fill="#000" textLength="27.21" lengthAdjust="spacingAndGlyphs" stroke="#000" stroke-width="0.25">catabolic</text>
<text x="534.28" y="600.95" font-size="6.5" text-anchor="start" font-weight="bold" font-style="normal" fill="#000" textLength="22.92" lengthAdjust="spacingAndGlyphs" stroke="#000" stroke-width="0.25">process</text>
<rect x="573.50" y="603.23" width="12.42" height="5.30" fill="#0000ff"/>
<line x1="567.00" y1="605.88" x2="572.50" y2="605.88" stroke="#000" stroke-width="1.8"/>
<text x="486.92" y="608.28" font-size="6.5" text-anchor="start" font-weight="bold" font-style="normal" fill="#000" textLength="41.04" lengthAdjust="spacingAndGlyphs" stroke="#000" stroke-width="0.25">cell-substrate</text>
<text x="529.60" y="608.28" font-size="6.5" text-anchor="start" font-weight="bold" font-style="normal" fill="#000" textLength="27.60" lengthAdjust="spacingAndGlyphs" stroke="#000" stroke-width="0.25">adhesion</text>
<rect x="573.50" y="610.56" width="27.66" height="5.30" fill="#0000ff"/>
<line x1="567.00" y1="613.21" x2="572.50" y2="613.21" stroke="#000" stroke-width="1.8"/>
<text x="515.78" y="615.61" font-size="6.5" text-anchor="start" font-weight="bold" font-style="normal" fill="#000" textLength="10.29" lengthAdjust="spacingAndGlyphs" stroke="#000" stroke-width="0.25">cell</text>
<text x="527.72" y="615.61" font-size="6.5" text-anchor="start" font-weight="bold" font-style="normal" fill="#000" textLength="29.48" lengthAdjust="spacingAndGlyphs" stroke="#000" stroke-width="0.25">migration</text>
<rect x="573.50" y="617.89" width="10.24" height="5.30" fill="#0000ff"/>
<line x1="567.00" y1="620.54" x2="572.50" y2="620.54" stroke="#000" stroke-width="1.8"/>
<text x="490.62" y="622.94" font-size="6.5" text-anchor="start" font-weight="bold" font-style="normal" fill="#000" textLength="10.29" lengthAdjust="spacingAndGlyphs" stroke="#000" stroke-width="0.25">cell</text>
<text x="502.56" y="622.94" font-size="6.5" text-anchor="start" font-weight="bold" font-style="normal" fill="#000" textLength="24.86" lengthAdjust="spacingAndGlyphs" stroke="#000" stroke-width="0.25">junction</text>
<text x="529.06" y="622.94" font-size="6.5" text-anchor="start" font-weight="bold" font-style="normal" fill="#000" textLength="28.14" lengthAdjust="spacingAndGlyphs" stroke="#000" stroke-width="0.25">assembly</text>
<rect x="573.50" y="625.22" width="36.38" height="5.30" fill="#000"/>
<line x1="567.00" y1="627.87" x2="572.50" y2="627.87" stroke="#000" stroke-width="1.8"/>
<text x="501.09" y="630.27" font-size="6.5" text-anchor="start" font-weight="bold" font-style="normal" fill="#000" textLength="10.29" lengthAdjust="spacingAndGlyphs" stroke="#000" stroke-width="0.25">cell</text>
<text x="513.02" y="630.27" font-size="6.5" text-anchor="start" font-weight="bold" font-style="normal" fill="#000" textLength="44.18" lengthAdjust="spacingAndGlyphs" stroke="#000" stroke-width="0.25">differentiation</text>
<rect x="600.86" y="632.55" width="11.19" height="5.30" fill="#000"/>
<rect x="573.50" y="632.55" width="27.66" height="5.30" fill="#0000ff"/>
<line x1="567.00" y1="635.20" x2="572.50" y2="635.20" stroke="#000" stroke-width="1.8"/>
<text x="517.67" y="637.60" font-size="6.5" text-anchor="start" font-weight="bold" font-style="normal" fill="#000" textLength="10.29" lengthAdjust="spacingAndGlyphs" stroke="#000" stroke-width="0.25">cell</text>
<text x="529.60" y="637.60" font-size="6.5" text-anchor="start" font-weight="bold" font-style="normal" fill="#000" textLength="27.60" lengthAdjust="spacingAndGlyphs" stroke="#000" stroke-width="0.25">adhesion</text>
<rect x="573.50" y="639.88" width="23.31" height="5.30" fill="#0000ff"/>
<line x1="567.00" y1="642.53" x2="572.50" y2="642.53" stroke="#000" stroke-width="1.8"/>
<text x="515.13" y="644.93" font-size="6.5" text-anchor="start" font-weight="bold" font-style="normal" fill="#000" textLength="10.29" lengthAdjust="spacingAndGlyphs" stroke="#000" stroke-width="0.25">cell</text>
<text x="527.06" y="644.93" font-size="6.5" text-anchor="start" font-weight="bold" font-style="normal" fill="#000" textLength="30.14" lengthAdjust="spacingAndGlyphs" stroke="#000" stroke-width="0.25">activation</text>
<rect x="573.50" y="647.21" width="10.24" height="5.30" fill="#000"/>
<line x1="567.00" y1="649.86" x2="572.50" y2="649.86" stroke="#000" stroke-width="1.8"/>
<text x="456.38" y="652.26" font-size="6.5" text-anchor="start" font-weight="bold" font-style="normal" fill="#000" textLength="30.47" lengthAdjust="spacingAndGlyphs" stroke="#000" stroke-width="0.25">carboxylic</text>
<text x="488.49" y="652.26" font-size="6.5" text-anchor="start" font-weight="bold" font-style="normal" fill="#000" textLength="12.34" lengthAdjust="spacingAndGlyphs" stroke="#000" stroke-width="0.25">acid</text>
<text x="502.48" y="652.26" font-size="6.5" text-anchor="start" font-weight="bold" font-style="normal" fill="#000" textLength="30.15" lengthAdjust="spacingAndGlyphs" stroke="#000" stroke-width="0.25">metabolic</text>
<text x="534.28" y="652.26" font-size="6.5" text-anchor="start" font-weight="bold" font-style="normal" fill="#000" textLength="22.92" lengthAdjust="spacingAndGlyphs" stroke="#000" stroke-width="0.25">process</text>
<rect x="573.50" y="654.53" width="10.24" height="5.30" fill="#0000ff"/>
<line x1="567.00" y1="657.18" x2="572.50" y2="657.18" stroke="#000" stroke-width="1.8"/>
<text x="431.03" y="659.58" font-size="6.5" text-anchor="start" font-weight="bold" font-style="normal" fill="#000" textLength="40.69" lengthAdjust="spacingAndGlyphs" stroke="#000" stroke-width="0.25">carbohydrate</text>
<text x="473.36" y="659.58" font-size="6.5" text-anchor="start" font-weight="bold" font-style="normal" fill="#000" textLength="30.41" lengthAdjust="spacingAndGlyphs" stroke="#000" stroke-width="0.25">derivative</text>
<text x="505.42" y="659.58" font-size="6.5" text-anchor="start" font-weight="bold" font-style="normal" fill="#000" textLength="27.21" lengthAdjust="spacingAndGlyphs" stroke="#000" stroke-width="0.25">catabolic</text>
<text x="534.28" y="659.58" font-size="6.5" text-anchor="start" font-weight="bold" font-style="normal" fill="#000" textLength="22.92" lengthAdjust="spacingAndGlyphs" stroke="#000" stroke-width="0.25">process</text>
<rect x="573.50" y="661.86" width="8.06" height="5.30" fill="#000"/>
<line x1="567.00" y1="664.51" x2="572.50" y2="664.51" stroke="#000" stroke-width="1.8"/>
<text x="420.90" y="666.91" font-size="6.5" text-anchor="start" font-weight="bold" font-style="normal" fill="#000" textLength="40.69" lengthAdjust="spacingAndGlyphs" stroke="#000" stroke-width="0.25">carbohydrate</text>
<text x="463.24" y="666.91" font-size="6.5" text-anchor="start" font-weight="bold" font-style="normal" fill="#000" textLength="30.41" lengthAdjust="spacingAndGlyphs" stroke="#000" stroke-width="0.25">derivative</text>
<text x="495.29" y="666.91" font-size="6.5" text-anchor="start" font-weight="bold" font-style="normal" fill="#000" textLength="37.34" lengthAdjust="spacingAndGlyphs" stroke="#000" stroke-width="0.25">biosynthetic</text>
<text x="534.28" y="666.91" font-size="6.5" text-anchor="start" font-weight="bold" font-style="normal" fill="#000" textLength="22.92" lengthAdjust="spacingAndGlyphs" stroke="#000" stroke-width="0.25">process</text>
<rect x="573.50" y="669.19" width="16.77" height="5.30" fill="#0000ff"/>
<line x1="567.00" y1="671.84" x2="572.50" y2="671.84" stroke="#000" stroke-width="1.8"/>
<text x="477.79" y="674.24" font-size="6.5" text-anchor="start" font-weight="bold" font-style="normal" fill="#000" textLength="17.44" lengthAdjust="spacingAndGlyphs" stroke="#000" stroke-width="0.25">blood</text>
<text x="496.88" y="674.24" font-size="6.5" text-anchor="start" font-weight="bold" font-style="normal" fill="#000" textLength="18.37" lengthAdjust="spacingAndGlyphs" stroke="#000" stroke-width="0.25">vessel</text>
<text x="516.89" y="674.24" font-size="6.5" text-anchor="start" font-weight="bold" font-style="normal" fill="#000" textLength="40.31" lengthAdjust="spacingAndGlyphs" stroke="#000" stroke-width="0.25">development</text>
<rect x="573.50" y="676.52" width="21.13" height="5.30" fill="#000"/>
<line x1="567.00" y1="679.17" x2="572.50" y2="679.17" stroke="#000" stroke-width="1.8"/>
<text x="475.54" y="681.57" font-size="6.5" text-anchor="start" font-weight="bold" font-style="normal" fill="#000" textLength="20.60" lengthAdjust="spacingAndGlyphs" stroke="#000" stroke-width="0.25">animal</text>
<text x="497.79" y="681.57" font-size="6.5" text-anchor="start" font-weight="bold" font-style="normal" fill="#000" textLength="17.46" lengthAdjust="spacingAndGlyphs" stroke="#000" stroke-width="0.25">organ</text>
<text x="516.89" y="681.57" font-size="6.5" text-anchor="start" font-weight="bold" font-style="normal" fill="#000" textLength="40.31" lengthAdjust="spacingAndGlyphs" stroke="#000" stroke-width="0.25">development</text>
<rect x="573.50" y="683.85" width="12.42" height="5.30" fill="#0000ff"/>
<line x1="567.00" y1="686.50" x2="572.50" y2="686.50" stroke="#000" stroke-width="1.8"/>
<text x="518.25" y="688.90" font-size="6.5" text-anchor="start" font-weight="bold" font-style="normal" fill="#000" textLength="38.95" lengthAdjust="spacingAndGlyphs" stroke="#000" stroke-width="0.25">angiogenesis</text>
<rect x="573.50" y="691.18" width="34.20" height="5.30" fill="#0000ff"/>
<line x1="567.00" y1="693.83" x2="572.50" y2="693.83" stroke="#000" stroke-width="1.8"/>
<text x="446.14" y="696.23" font-size="6.5" text-anchor="start" font-weight="bold" font-style="normal" fill="#000" textLength="33.68" lengthAdjust="spacingAndGlyphs" stroke="#000" stroke-width="0.25">anatomical</text>
<text x="481.47" y="696.23" font-size="6.5" text-anchor="start" font-weight="bold" font-style="normal" fill="#000" textLength="27.65" lengthAdjust="spacingAndGlyphs" stroke="#000" stroke-width="0.25">structure</text>
<text x="510.76" y="696.23" font-size="6.5" text-anchor="start" font-weight="bold" font-style="normal" fill="#000" textLength="46.44" lengthAdjust="spacingAndGlyphs" stroke="#000" stroke-width="0.25">morphogenesis</text>
<rect x="622.64" y="698.51" width="26.44" height="5.30" fill="#000"/>
<rect x="573.50" y="698.51" width="49.44" height="5.30" fill="#0000ff"/>
<line x1="567.00" y1="701.16" x2="572.50" y2="701.16" stroke="#000" stroke-width="1.8"/>
<text x="452.27" y="703.56" font-size="6.5" text-anchor="start" font-weight="bold" font-style="normal" fill="#000" textLength="33.68" lengthAdjust="spacingAndGlyphs" stroke="#000" stroke-width="0.25">anatomical</text>
<text x="487.60" y="703.56" font-size="6.5" text-anchor="start" font-weight="bold" font-style="normal" fill="#000" textLength="27.65" lengthAdjust="spacingAndGlyphs" stroke="#000" stroke-width="0.25">structure</text>
<text x="516.89" y="703.56" font-size="6.5" text-anchor="start" font-weight="bold" font-style="normal" fill="#000" textLength="40.31" lengthAdjust="spacingAndGlyphs" stroke="#000" stroke-width="0.25">development</text>
<rect x="573.50" y="705.84" width="5.88" height="5.30" fill="#000"/>
<line x1="567.00" y1="708.49" x2="572.50" y2="708.49" stroke="#000" stroke-width="1.8"/>
<text x="541.00" y="710.89" font-size="6.5" text-anchor="start" font-weight="bold" font-style="normal" fill="#000" textLength="16.20" lengthAdjust="spacingAndGlyphs" stroke="#000" stroke-width="0.25">aging</text>
<line x1="572.80" y1="175.20" x2="572.80" y2="713.70" stroke="#000" stroke-width="2.0"/>
<line x1="572.20" y1="713.00" x2="682.50" y2="713.00" stroke="#000" stroke-width="1.5"/>
<line x1="572.85" y1="713.00" x2="572.85" y2="718.50" stroke="#000" stroke-width="1.6"/>
<text x="572.85" y="727.90" font-size="6.8" text-anchor="middle" font-weight="bold" font-style="normal" fill="#000" textLength="3.65" lengthAdjust="spacingAndGlyphs" stroke="#000" stroke-width="0.25">0</text>
<line x1="594.63" y1="713.00" x2="594.63" y2="718.50" stroke="#000" stroke-width="1.6"/>
<text x="594.63" y="727.90" font-size="6.8" text-anchor="middle" font-weight="bold" font-style="normal" fill="#000" textLength="7.10" lengthAdjust="spacingAndGlyphs" stroke="#000" stroke-width="0.25">10</text>
<line x1="616.41" y1="713.00" x2="616.41" y2="718.50" stroke="#000" stroke-width="1.6"/>
<text x="616.41" y="727.90" font-size="6.8" text-anchor="middle" font-weight="bold" font-style="normal" fill="#000" textLength="7.10" lengthAdjust="spacingAndGlyphs" stroke="#000" stroke-width="0.25">20</text>
<line x1="638.19" y1="713.00" x2="638.19" y2="718.50" stroke="#000" stroke-width="1.6"/>
<text x="638.19" y="727.90" font-size="6.8" text-anchor="middle" font-weight="bold" font-style="normal" fill="#000" textLength="7.10" lengthAdjust="spacingAndGlyphs" stroke="#000" stroke-width="0.25">30</text>
<line x1="659.97" y1="713.00" x2="659.97" y2="718.50" stroke="#000" stroke-width="1.6"/>
<text x="659.97" y="727.90" font-size="6.8" text-anchor="middle" font-weight="bold" font-style="normal" fill="#000" textLength="7.10" lengthAdjust="spacingAndGlyphs" stroke="#000" stroke-width="0.25">40</text>
<line x1="681.75" y1="713.00" x2="681.75" y2="718.50" stroke="#000" stroke-width="1.6"/>
<text x="681.75" y="727.90" font-size="6.8" text-anchor="middle" font-weight="bold" font-style="normal" fill="#000" textLength="7.10" lengthAdjust="spacingAndGlyphs" stroke="#000" stroke-width="0.25">50</text>
<text x="594.30" y="741.20" font-size="6.4" text-anchor="start" font-weight="bold" font-style="normal" fill="#000" textLength="27.45" lengthAdjust="spacingAndGlyphs" stroke="#000" stroke-width="0.25">Number</text>
<text x="623.57" y="741.20" font-size="6.4" text-anchor="start" font-weight="bold" font-style="normal" fill="#000" textLength="6.89" lengthAdjust="spacingAndGlyphs" stroke="#000" stroke-width="0.25">of</text>
<text x="632.28" y="741.20" font-size="6.4" text-anchor="start" font-weight="bold" font-style="normal" fill="#000" textLength="27.92" lengthAdjust="spacingAndGlyphs" stroke="#000" stroke-width="0.25">proteins</text>
<text x="11.80" y="776.50" font-size="17.3" text-anchor="start" font-weight="bold" font-style="normal" fill="#000" textLength="14.20" lengthAdjust="spacingAndGlyphs" stroke="#000" stroke-width="0.45">B.</text>
<text x="180.40" y="776.30" font-size="13.4" text-anchor="start" font-weight="bold" font-style="italic" fill="#000" textLength="163.50" lengthAdjust="spacingAndGlyphs">Ratio of Edited / Unedited</text>
<rect x="47.50" y="783.70" width="349.90" height="81.10" fill="#d3d3d3"/>
<rect x="47.50" y="905.50" width="350.40" height="40.30" fill="#d3d3d3"/>
<line x1="159.30" y1="806.40" x2="399.60" y2="806.40" stroke="#c2c2c2" stroke-width="1.0" stroke-dasharray="1 1.6"/>
<line x1="159.30" y1="826.20" x2="399.60" y2="826.20" stroke="#c2c2c2" stroke-width="1.0" stroke-dasharray="1 1.6"/>
<line x1="159.30" y1="846.00" x2="399.60" y2="846.00" stroke="#c2c2c2" stroke-width="1.0" stroke-dasharray="1 1.6"/>
<line x1="159.30" y1="925.20" x2="399.60" y2="925.20" stroke="#c2c2c2" stroke-width="1.0" stroke-dasharray="1 1.6"/>
<line x1="159.30" y1="885.60" x2="399.60" y2="885.60" stroke="#dadada" stroke-width="1.0" stroke-dasharray="1 1.6"/>
<line x1="159.30" y1="865.20" x2="399.60" y2="865.20" stroke="#cccccc" stroke-width="1.0" stroke-dasharray="1 1.6"/>
<line x1="159.30" y1="905.40" x2="399.60" y2="905.40" stroke="#cccccc" stroke-width="1.0" stroke-dasharray="1 1.6"/>
<line x1="278.90" y1="784.60" x2="278.90" y2="945.60" stroke="#000" stroke-width="1.7"/>
<rect x="259.30" y="790.85" width="19.60" height="10.80" fill="#8c8c8c"/>
<line x1="224.30" y1="796.10" x2="294.00" y2="796.10" stroke="#000" stroke-width="1.7"/>
<circle cx="201.20" cy="796.10" r="1.9" fill="#c4623a"/>
<circle cx="251.30" cy="796.10" r="1.9" fill="#c4623a"/>
<circle cx="280.10" cy="792.40" r="1.9" fill="#c4623a"/>
<circle cx="281.40" cy="796.10" r="1.9" fill="#c4623a"/>
<circle cx="281.10" cy="799.90" r="1.9" fill="#c4623a"/>
<rect x="266.10" y="810.75" width="12.80" height="10.80" fill="#8c8c8c"/>
<line x1="248.10" y1="816.00" x2="283.40" y2="816.00" stroke="#000" stroke-width="1.7"/>
<circle cx="247.60" cy="816.00" r="1.9" fill="#b43a6e"/>
<circle cx="261.80" cy="816.00" r="1.9" fill="#b43a6e"/>
<circle cx="264.20" cy="812.30" r="1.9" fill="#b43a6e"/>
<circle cx="264.20" cy="819.70" r="1.9" fill="#b43a6e"/>
<circle cx="293.80" cy="816.00" r="1.9" fill="#b43a6e"/>
<rect x="274.70" y="830.55" width="4.20" height="10.80" fill="#8c8c8c"/>
<line x1="265.70" y1="835.80" x2="283.60" y2="835.80" stroke="#000" stroke-width="1.7"/>
<circle cx="267.20" cy="832.10" r="1.9" fill="#5a8a1e"/>
<circle cx="270.70" cy="835.80" r="1.9" fill="#5a8a1e"/>
<circle cx="266.50" cy="839.60" r="1.9" fill="#5a8a1e"/>
<circle cx="282.40" cy="835.80" r="1.9" fill="#5a8a1e"/>
<circle cx="285.80" cy="835.80" r="1.9" fill="#5a8a1e"/>
<rect x="251.30" y="850.45" width="27.60" height="10.80" fill="#8c8c8c"/>
<line x1="196.50" y1="855.70" x2="305.20" y2="855.70" stroke="#000" stroke-width="1.7"/>
<circle cx="175.10" cy="855.70" r="1.9" fill="#2a9272"/>
<circle cx="210.90" cy="855.70" r="1.9" fill="#2a9272"/>
<circle cx="284.60" cy="855.70" r="1.9" fill="#2a9272"/>
<circle cx="287.80" cy="855.70" r="1.9" fill="#2a9272"/>
<circle cx="295.50" cy="855.70" r="1.9" fill="#2a9272"/>
<rect x="276.90" y="870.15" width="2.00" height="10.80" fill="#b4b4b4"/>
<line x1="264.20" y1="875.40" x2="293.30" y2="875.40" stroke="#000" stroke-width="1.7"/>
<circle cx="258.50" cy="875.40" r="1.9" fill="#3a68b0"/>
<circle cx="262.80" cy="875.40" r="1.9" fill="#3a68b0"/>
<circle cx="279.40" cy="875.40" r="1.9" fill="#3a68b0"/>
<circle cx="283.90" cy="875.40" r="1.9" fill="#3a68b0"/>
<circle cx="299.50" cy="875.40" r="1.9" fill="#3a68b0"/>
<line x1="276.90" y1="895.20" x2="282.50" y2="895.20" stroke="#000" stroke-width="1.7"/>
<circle cx="278.70" cy="891.60" r="1.9" fill="#ff8c28"/>
<circle cx="282.70" cy="891.60" r="1.9" fill="#ff8c28"/>
<circle cx="279.60" cy="895.20" r="1.9" fill="#ff8c28"/>
<circle cx="275.80" cy="899.00" r="1.9" fill="#ff8c28"/>
<circle cx="281.70" cy="899.00" r="1.9" fill="#ff8c28"/>
<rect x="272.20" y="909.85" width="6.70" height="10.80" fill="#8c8c8c"/>
<line x1="265.20" y1="915.10" x2="278.10" y2="915.10" stroke="#000" stroke-width="1.7"/>
<circle cx="268.50" cy="911.40" r="1.9" fill="#a8b85e"/>
<circle cx="270.00" cy="915.10" r="1.9" fill="#a8b85e"/>
<circle cx="266.50" cy="918.80" r="1.9" fill="#a8b85e"/>
<circle cx="271.20" cy="918.80" r="1.9" fill="#a8b85e"/>
<circle cx="283.10" cy="915.10" r="1.9" fill="#a8b85e"/>
<rect x="256.10" y="929.45" width="22.80" height="10.80" fill="#8c8c8c"/>
<line x1="229.50" y1="934.70" x2="284.80" y2="934.70" stroke="#000" stroke-width="1.7"/>
<circle cx="222.50" cy="934.70" r="1.9" fill="#e2789f"/>
<circle cx="228.80" cy="934.70" r="1.9" fill="#e2789f"/>
<circle cx="262.50" cy="934.70" r="1.9" fill="#e2789f"/>
<circle cx="281.90" cy="931.20" r="1.9" fill="#e2789f"/>
<circle cx="283.40" cy="938.40" r="1.9" fill="#e2789f"/>
<line x1="158.10" y1="783.70" x2="158.10" y2="946.40" stroke="#000" stroke-width="1.9"/>
<line x1="157.20" y1="945.60" x2="399.50" y2="945.60" stroke="#000" stroke-width="1.8"/>
<line x1="151.30" y1="796.10" x2="158.10" y2="796.10" stroke="#000" stroke-width="1.7"/>
<line x1="151.30" y1="816.00" x2="158.10" y2="816.00" stroke="#000" stroke-width="1.7"/>
<line x1="151.30" y1="835.80" x2="158.10" y2="835.80" stroke="#000" stroke-width="1.7"/>
<line x1="151.30" y1="855.70" x2="158.10" y2="855.70" stroke="#000" stroke-width="1.7"/>
<line x1="151.30" y1="875.40" x2="158.10" y2="875.40" stroke="#000" stroke-width="1.7"/>
<line x1="151.30" y1="895.20" x2="158.10" y2="895.20" stroke="#000" stroke-width="1.7"/>
<line x1="151.30" y1="915.10" x2="158.10" y2="915.10" stroke="#000" stroke-width="1.7"/>
<line x1="151.30" y1="934.70" x2="158.10" y2="934.70" stroke="#000" stroke-width="1.7"/>
<line x1="182.20" y1="945.60" x2="182.20" y2="951.60" stroke="#000" stroke-width="1.5"/>
<text x="182.20" y="965.70" font-size="11.8" text-anchor="middle" font-weight="bold" font-style="normal" fill="#000" textLength="9.70" lengthAdjust="spacingAndGlyphs" stroke="#000" stroke-width="0.2">-2</text>
<line x1="230.35" y1="945.60" x2="230.35" y2="951.60" stroke="#000" stroke-width="1.5"/>
<text x="230.35" y="965.70" font-size="11.8" text-anchor="middle" font-weight="bold" font-style="normal" fill="#000" textLength="9.70" lengthAdjust="spacingAndGlyphs" stroke="#000" stroke-width="0.2">-1</text>
<line x1="278.50" y1="945.60" x2="278.50" y2="951.60" stroke="#000" stroke-width="1.5"/>
<text x="278.50" y="965.70" font-size="11.8" text-anchor="middle" font-weight="bold" font-style="normal" fill="#000" textLength="5.80" lengthAdjust="spacingAndGlyphs" stroke="#000" stroke-width="0.2">0</text>
<line x1="326.65" y1="945.60" x2="326.65" y2="951.60" stroke="#000" stroke-width="1.5"/>
<text x="326.65" y="965.70" font-size="11.8" text-anchor="middle" font-weight="bold" font-style="normal" fill="#000" textLength="5.80" lengthAdjust="spacingAndGlyphs" stroke="#000" stroke-width="0.2">1</text>
<line x1="374.80" y1="945.60" x2="374.80" y2="951.60" stroke="#000" stroke-width="1.5"/>
<text x="374.80" y="965.70" font-size="11.8" text-anchor="middle" font-weight="bold" font-style="normal" fill="#000" textLength="5.80" lengthAdjust="spacingAndGlyphs" stroke="#000" stroke-width="0.2">2</text>
<text x="122.90" y="800.00" font-size="11.1" font-style="italic" fill="#1a1a1a" stroke="#1a1a1a" stroke-width="0.2" textLength="27.3" lengthAdjust="spacingAndGlyphs">IFN-<tspan font-style="normal" font-size="10.2" stroke="none" dy="1.0">γ</tspan></text>
<text x="123.50" y="819.90" font-size="11.1" font-style="italic" fill="#1a1a1a" stroke="#1a1a1a" stroke-width="0.2" textLength="26.7" lengthAdjust="spacingAndGlyphs">IL-1<tspan font-style="normal" font-size="10.2" stroke="none" dy="1.7">α</tspan></text>
<text x="124.40" y="839.70" font-size="11.1" font-style="italic" fill="#1a1a1a" stroke="#1a1a1a" stroke-width="0.2" textLength="25.8" lengthAdjust="spacingAndGlyphs">IL-1<tspan font-style="normal" font-size="10.2" stroke="none" dy="1.7">β</tspan></text>
<text x="130.90" y="859.60" font-size="11.1" font-style="italic" fill="#1a1a1a" stroke="#1a1a1a" stroke-width="0.2" textLength="19.3" lengthAdjust="spacingAndGlyphs">IL-2</text>
<text x="130.90" y="879.30" font-size="11.1" font-style="italic" fill="#1a1a1a" stroke="#1a1a1a" stroke-width="0.2" textLength="19.3" lengthAdjust="spacingAndGlyphs">IL-6</text>
<text x="130.90" y="899.10" font-size="11.1" font-style="italic" fill="#1a1a1a" stroke="#1a1a1a" stroke-width="0.2" textLength="19.3" lengthAdjust="spacingAndGlyphs">IL-8</text>
<text x="120.50" y="919.00" font-size="11.1" font-style="italic" fill="#1a1a1a" stroke="#1a1a1a" stroke-width="0.2" textLength="29.7" lengthAdjust="spacingAndGlyphs">VEGF</text>
<text x="125.10" y="938.60" font-size="11.1" font-style="italic" fill="#1a1a1a" stroke="#1a1a1a" stroke-width="0.2" textLength="25.1" lengthAdjust="spacingAndGlyphs">IL-10</text>
<text x="52.10" y="824.10" font-size="8.0" text-anchor="start" font-weight="bold" font-style="italic" fill="#111" stroke="#111" stroke-width="0.22">Pro -</text>
<text x="52.10" y="833.90" font-size="8.0" text-anchor="start" font-weight="bold" font-style="italic" fill="#111" textLength="50.00" lengthAdjust="spacingAndGlyphs" stroke="#111" stroke-width="0.22">inflammatory</text>
<text x="52.10" y="883.50" font-size="8.0" text-anchor="start" font-weight="bold" font-style="italic" fill="#111" textLength="52.50" lengthAdjust="spacingAndGlyphs" stroke="#111" stroke-width="0.22">Pro- and Anti-</text>
<text x="52.10" y="893.50" font-size="8.0" text-anchor="start" font-weight="bold" font-style="italic" fill="#111" textLength="50.00" lengthAdjust="spacingAndGlyphs" stroke="#111" stroke-width="0.22">inflammatory</text>
<text x="52.10" y="912.30" font-size="8.0" text-anchor="start" font-weight="bold" font-style="italic" fill="#111" textLength="66.30" lengthAdjust="spacingAndGlyphs" stroke="#111" stroke-width="0.22">Pro-inflammatory</text>
<text x="52.10" y="922.60" font-size="8.0" text-anchor="start" font-weight="bold" font-style="italic" fill="#111" textLength="56.80" lengthAdjust="spacingAndGlyphs" stroke="#111" stroke-width="0.22">and angiogenic</text>
<text x="52.10" y="935.50" font-size="8.0" text-anchor="start" font-weight="bold" font-style="italic" fill="#111" textLength="68.20" lengthAdjust="spacingAndGlyphs" stroke="#111" stroke-width="0.22">Anti-inflammatory</text>
<text x="52.10" y="946.00" font-size="8.0" text-anchor="start" font-weight="bold" font-style="italic" fill="#111" textLength="57.70" lengthAdjust="spacingAndGlyphs" stroke="#111" stroke-width="0.22">and pro-fibrotic</text>
<text x="193.10" y="978.60" font-size="10.9" text-anchor="start" font-weight="bold" font-style="italic" fill="#000" textLength="48.60" lengthAdjust="spacingAndGlyphs">Decrease</text>
<text x="316.50" y="978.60" font-size="10.9" text-anchor="start" font-weight="bold" font-style="italic" fill="#000" textLength="43.00" lengthAdjust="spacingAndGlyphs">Increase</text>
<path d="M248.8 975.1 L257 971.7 L257 973.8000000000001 L273.8 973.8000000000001 L273.8 976.4 L257 976.4 L257 978.5 Z" fill="#000"/>
<path d="M308.6 975.1 L300.4 971.7 L300.4 973.8000000000001 L283.9 973.8000000000001 L283.9 976.4 L300.4 976.4 L300.4 978.5 Z" fill="#000"/>
<text x="436.50" y="776.30" font-size="17.3" text-anchor="start" font-weight="bold" font-style="normal" fill="#000" textLength="13.60" lengthAdjust="spacingAndGlyphs" stroke="#000" stroke-width="0.45">C.</text>
<text x="491.90" y="775.50" font-size="13.0" text-anchor="start" font-weight="bold" font-style="normal" fill="#000" textLength="28.00" lengthAdjust="spacingAndGlyphs" stroke="#000" stroke-width="0.3">Tube</text>
<text x="522.96" y="775.50" font-size="13.0" text-anchor="start" font-weight="bold" font-style="normal" fill="#000" textLength="56.55" lengthAdjust="spacingAndGlyphs" stroke="#000" stroke-width="0.3">formation</text>
<text x="582.56" y="775.50" font-size="13.0" text-anchor="start" font-weight="bold" font-style="normal" fill="#000" textLength="30.54" lengthAdjust="spacingAndGlyphs" stroke="#000" stroke-width="0.3">assay</text>
<text x="533.90" y="792.80" font-size="11.9" text-anchor="start" font-weight="normal" font-style="italic" fill="#000" textLength="39.20" lengthAdjust="spacingAndGlyphs" stroke="#000" stroke-width="0.2">p=0.028</text>
<line x1="495.00" y1="799.30" x2="495.00" y2="921.50" stroke="#000" stroke-width="1.9"/>
<line x1="495.00" y1="930.50" x2="495.00" y2="946.20" stroke="#000" stroke-width="1.9"/>
<line x1="492.00" y1="924.40" x2="498.90" y2="918.90" stroke="#000" stroke-width="1.5"/>
<line x1="492.00" y1="933.40" x2="498.90" y2="928.10" stroke="#000" stroke-width="1.5"/>
<line x1="494.80" y1="945.50" x2="610.30" y2="945.50" stroke="#000" stroke-width="1.5"/>
<line x1="489.20" y1="800.00" x2="495.00" y2="800.00" stroke="#000" stroke-width="1.4"/>
<text x="487.80" y="803.60" font-size="10.9" text-anchor="end" font-weight="bold" font-style="normal" fill="#000" textLength="11.60" lengthAdjust="spacingAndGlyphs" stroke="#000" stroke-width="0.3">50</text>
<line x1="489.20" y1="848.10" x2="495.00" y2="848.10" stroke="#000" stroke-width="1.4"/>
<text x="487.80" y="851.70" font-size="10.9" text-anchor="end" font-weight="bold" font-style="normal" fill="#000" textLength="11.60" lengthAdjust="spacingAndGlyphs" stroke="#000" stroke-width="0.3">40</text>
<line x1="489.20" y1="896.70" x2="495.00" y2="896.70" stroke="#000" stroke-width="1.4"/>
<text x="487.80" y="900.30" font-size="10.9" text-anchor="end" font-weight="bold" font-style="normal" fill="#000" textLength="11.60" lengthAdjust="spacingAndGlyphs" stroke="#000" stroke-width="0.3">30</text>
<line x1="489.20" y1="934.40" x2="495.00" y2="934.40" stroke="#000" stroke-width="1.4"/>
<text x="487.80" y="938.60" font-size="10.9" text-anchor="end" font-weight="bold" font-style="normal" fill="#000" textLength="11.60" lengthAdjust="spacingAndGlyphs" stroke="#000" stroke-width="0.3">20</text>
<line x1="489.20" y1="945.50" x2="495.00" y2="945.50" stroke="#000" stroke-width="1.4"/>
<text x="487.80" y="949.60" font-size="10.9" text-anchor="end" font-weight="bold" font-style="normal" fill="#000" textLength="5.80" lengthAdjust="spacingAndGlyphs" stroke="#000" stroke-width="0.3">0</text>
<line x1="527.50" y1="945.50" x2="527.50" y2="952.00" stroke="#000" stroke-width="1.6"/>
<line x1="577.20" y1="945.50" x2="577.20" y2="952.00" stroke="#000" stroke-width="1.6"/>
<text x="500.70" y="966.10" font-size="12.8" text-anchor="start" font-weight="bold" font-style="normal" fill="#000" textLength="53.99" lengthAdjust="spacingAndGlyphs" stroke="#000" stroke-width="0.3">Unedited</text>
<text x="557.85" y="966.10" font-size="12.8" text-anchor="start" font-weight="bold" font-style="normal" fill="#000" textLength="37.15" lengthAdjust="spacingAndGlyphs" stroke="#000" stroke-width="0.3">Edited</text>
<text transform="translate(467.7,910.6) rotate(-90)" font-size="12.8" font-weight="bold" stroke="#000" stroke-width="0.3" textLength="76.3" lengthAdjust="spacingAndGlyphs">#&#160;of polygons</text>
<path d="M527.6 864.9 V800.2 H578.9 V806.9" fill="none" stroke="#000" stroke-width="1.9"/>
<rect x="512.25" y="880" width="30.8" height="24.05" fill="#fff" stroke="#000" stroke-width="2.1" stroke-linejoin="round"/>
<line x1="512.25" y1="888.50" x2="543.05" y2="888.50" stroke="#000" stroke-width="2.0"/>
<line x1="519.40" y1="878.75" x2="535.90" y2="878.75" stroke="#000" stroke-width="1.8"/>
<line x1="519.40" y1="908.10" x2="535.90" y2="908.10" stroke="#000" stroke-width="1.8"/>
<line x1="527.65" y1="904.00" x2="527.65" y2="908.10" stroke="#000" stroke-width="1.8"/>
<rect x="520.80" y="878.10" width="5.10" height="4.70" fill="#000"/>
<rect x="529.80" y="876.00" width="5.70" height="4.30" fill="#000"/>
<rect x="525.10" y="894.30" width="5.10" height="5.00" fill="#000"/>
<rect x="525.10" y="905.70" width="5.10" height="4.80" fill="#000"/>
<rect x="561.55" y="820.3" width="31" height="37.5" fill="#fff" stroke="#0000ff" stroke-width="2.1" stroke-linejoin="round"/>
<line x1="561.55" y1="828.50" x2="592.55" y2="828.50" stroke="#0000ff" stroke-width="2.0"/>
<line x1="568.70" y1="817.30" x2="585.30" y2="817.30" stroke="#0000ff" stroke-width="2.0"/>
<line x1="568.70" y1="867.60" x2="585.30" y2="867.60" stroke="#0000ff" stroke-width="2.0"/>
<line x1="577.10" y1="858.80" x2="577.10" y2="867.60" stroke="#0000ff" stroke-width="2.0"/>
<line x1="577.10" y1="817.30" x2="577.10" y2="820.30" stroke="#0000ff" stroke-width="2.0"/>
<circle cx="577.1" cy="817.3" r="2.55" fill="#000"/>
<circle cx="577.1" cy="825.6" r="2.55" fill="#000"/>
<circle cx="577.1" cy="832.0" r="2.55" fill="#000"/>
<circle cx="577.1" cy="867.6" r="2.55" fill="#000"/>
</svg>
</body></html>
